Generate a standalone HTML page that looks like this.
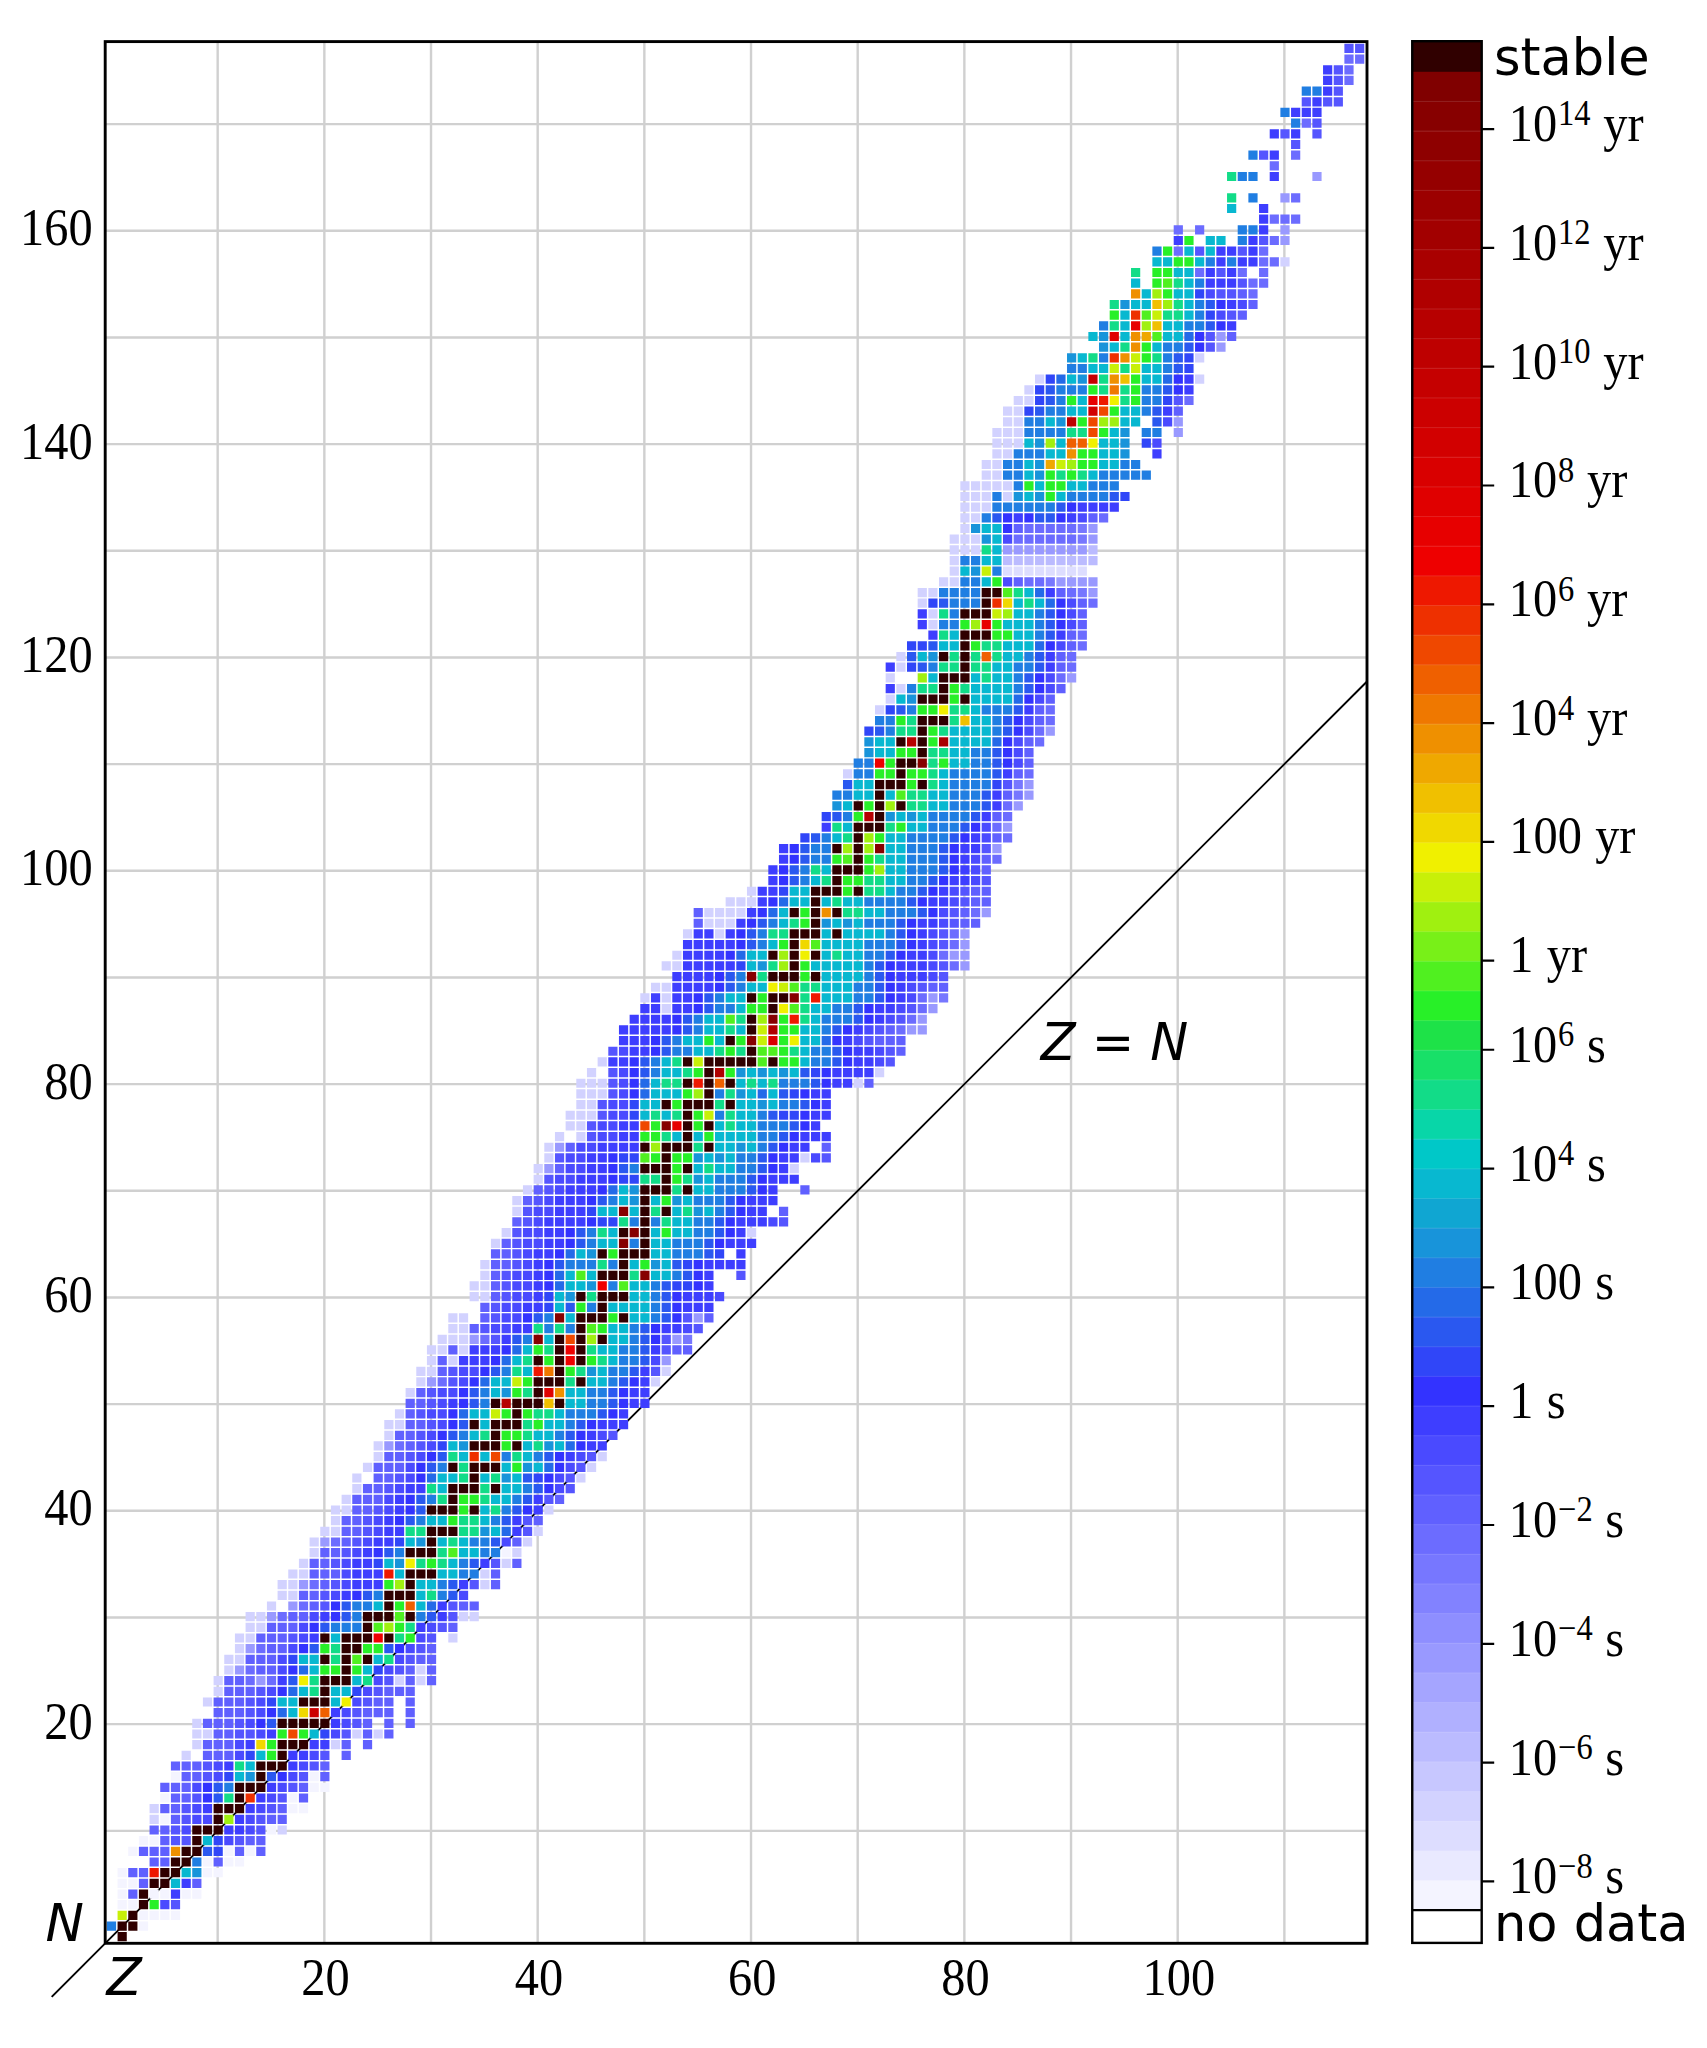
<!DOCTYPE html><html><head><meta charset="utf-8"><title>Isotopes and half-life</title>
<style>html,body{margin:0;padding:0;background:#fff}svg{display:block}.s{font-family:"Liberation Serif",serif;font-size:50px;fill:#000}.d{font-family:"DejaVu Sans",sans-serif;font-size:50px;fill:#000}.i{font-family:"DejaVu Sans",sans-serif;font-style:oblique;font-size:50px;fill:#000}</style></head><body>
<svg width="1707" height="2048" viewBox="0 0 1707 2048">
<rect width="1707" height="2048" fill="#fff"/>
<path d="M217.67 41.6V1943.3M324.34 41.6V1943.3M431.01 41.6V1943.3M537.68 41.6V1943.3M644.35 41.6V1943.3M751.02 41.6V1943.3M857.69 41.6V1943.3M964.36 41.6V1943.3M1071.03 41.6V1943.3M1177.7 41.6V1943.3M1284.37 41.6V1943.3M105.2 1830.83H1367M105.2 1724.16H1367M105.2 1617.49H1367M105.2 1510.82H1367M105.2 1404.15H1367M105.2 1297.48H1367M105.2 1190.81H1367M105.2 1084.14H1367M105.2 977.47H1367M105.2 870.8H1367M105.2 764.13H1367M105.2 657.46H1367M105.2 550.79H1367M105.2 444.12H1367M105.2 337.45H1367M105.2 230.78H1367M105.2 124.11H1367" stroke="#d0d0d0" stroke-width="2.4" fill="none"/>
<path d="M51.7 1996.8L1367 681.5" stroke="#000" stroke-width="1.9" fill="none"/>
<path fill="#300000" d="M117.57 1932.1h9.2v9.2h-9.2zM117.57 1921.43h9.2v9.2h-9.2zM128.24 1921.43h9.2v9.2h-9.2zM128.24 1910.76h9.2v9.2h-9.2zM138.9 1900.1h9.2v9.2h-9.2zM138.9 1889.43h9.2v9.2h-9.2zM149.57 1878.76h9.2v9.2h-9.2zM160.24 1878.76h9.2v9.2h-9.2zM160.24 1868.09h9.2v9.2h-9.2zM170.91 1868.09h9.2v9.2h-9.2zM170.91 1857.42h9.2v9.2h-9.2zM181.58 1857.42h9.2v9.2h-9.2zM181.58 1846.76h9.2v9.2h-9.2zM192.24 1846.76h9.2v9.2h-9.2zM192.24 1836.09h9.2v9.2h-9.2zM192.24 1825.42h9.2v9.2h-9.2zM202.91 1825.42h9.2v9.2h-9.2zM213.58 1825.42h9.2v9.2h-9.2zM213.58 1814.75h9.2v9.2h-9.2zM213.58 1804.08h9.2v9.2h-9.2zM224.25 1804.08h9.2v9.2h-9.2zM234.92 1804.08h9.2v9.2h-9.2zM234.92 1793.42h9.2v9.2h-9.2zM234.92 1782.75h9.2v9.2h-9.2zM245.58 1782.75h9.2v9.2h-9.2zM256.25 1782.75h9.2v9.2h-9.2zM256.25 1772.08h9.2v9.2h-9.2zM256.25 1761.41h9.2v9.2h-9.2zM266.92 1761.41h9.2v9.2h-9.2zM277.59 1761.41h9.2v9.2h-9.2zM277.59 1750.74h9.2v9.2h-9.2zM277.59 1740.08h9.2v9.2h-9.2zM288.26 1740.08h9.2v9.2h-9.2zM298.92 1740.08h9.2v9.2h-9.2zM277.59 1718.74h9.2v9.2h-9.2zM288.26 1718.74h9.2v9.2h-9.2zM298.92 1718.74h9.2v9.2h-9.2zM309.59 1718.74h9.2v9.2h-9.2zM320.26 1718.74h9.2v9.2h-9.2zM298.92 1697.4h9.2v9.2h-9.2zM309.59 1697.4h9.2v9.2h-9.2zM320.26 1697.4h9.2v9.2h-9.2zM320.26 1686.74h9.2v9.2h-9.2zM320.26 1676.07h9.2v9.2h-9.2zM330.93 1676.07h9.2v9.2h-9.2zM341.6 1676.07h9.2v9.2h-9.2zM341.6 1665.4h9.2v9.2h-9.2zM320.26 1654.73h9.2v9.2h-9.2zM341.6 1654.73h9.2v9.2h-9.2zM362.93 1654.73h9.2v9.2h-9.2zM341.6 1644.06h9.2v9.2h-9.2zM352.26 1644.06h9.2v9.2h-9.2zM320.26 1633.4h9.2v9.2h-9.2zM341.6 1633.4h9.2v9.2h-9.2zM352.26 1633.4h9.2v9.2h-9.2zM362.93 1633.4h9.2v9.2h-9.2zM384.27 1633.4h9.2v9.2h-9.2zM362.93 1622.73h9.2v9.2h-9.2zM362.93 1612.06h9.2v9.2h-9.2zM373.6 1612.06h9.2v9.2h-9.2zM384.27 1612.06h9.2v9.2h-9.2zM405.6 1612.06h9.2v9.2h-9.2zM384.27 1601.39h9.2v9.2h-9.2zM384.27 1590.72h9.2v9.2h-9.2zM394.94 1590.72h9.2v9.2h-9.2zM405.6 1590.72h9.2v9.2h-9.2zM405.6 1580.06h9.2v9.2h-9.2zM405.6 1569.39h9.2v9.2h-9.2zM416.27 1569.39h9.2v9.2h-9.2zM426.94 1569.39h9.2v9.2h-9.2zM405.6 1548.05h9.2v9.2h-9.2zM416.27 1548.05h9.2v9.2h-9.2zM426.94 1548.05h9.2v9.2h-9.2zM426.94 1537.38h9.2v9.2h-9.2zM426.94 1526.72h9.2v9.2h-9.2zM437.61 1526.72h9.2v9.2h-9.2zM448.28 1526.72h9.2v9.2h-9.2zM426.94 1505.38h9.2v9.2h-9.2zM437.61 1505.38h9.2v9.2h-9.2zM448.28 1505.38h9.2v9.2h-9.2zM469.61 1505.38h9.2v9.2h-9.2zM448.28 1494.71h9.2v9.2h-9.2zM448.28 1484.04h9.2v9.2h-9.2zM458.94 1484.04h9.2v9.2h-9.2zM469.61 1484.04h9.2v9.2h-9.2zM490.95 1484.04h9.2v9.2h-9.2zM469.61 1473.38h9.2v9.2h-9.2zM448.28 1462.71h9.2v9.2h-9.2zM469.61 1462.71h9.2v9.2h-9.2zM480.28 1462.71h9.2v9.2h-9.2zM490.95 1462.71h9.2v9.2h-9.2zM469.61 1441.37h9.2v9.2h-9.2zM480.28 1441.37h9.2v9.2h-9.2zM490.95 1441.37h9.2v9.2h-9.2zM512.28 1441.37h9.2v9.2h-9.2zM490.95 1430.7h9.2v9.2h-9.2zM469.61 1420.04h9.2v9.2h-9.2zM490.95 1420.04h9.2v9.2h-9.2zM501.62 1420.04h9.2v9.2h-9.2zM512.28 1420.04h9.2v9.2h-9.2zM512.28 1409.37h9.2v9.2h-9.2zM490.95 1398.7h9.2v9.2h-9.2zM512.28 1398.7h9.2v9.2h-9.2zM522.95 1398.7h9.2v9.2h-9.2zM533.62 1398.7h9.2v9.2h-9.2zM554.96 1398.7h9.2v9.2h-9.2zM533.62 1388.03h9.2v9.2h-9.2zM533.62 1377.36h9.2v9.2h-9.2zM544.29 1377.36h9.2v9.2h-9.2zM554.96 1377.36h9.2v9.2h-9.2zM576.29 1377.36h9.2v9.2h-9.2zM554.96 1366.7h9.2v9.2h-9.2zM533.62 1356.03h9.2v9.2h-9.2zM554.96 1356.03h9.2v9.2h-9.2zM576.29 1356.03h9.2v9.2h-9.2zM554.96 1345.36h9.2v9.2h-9.2zM576.29 1345.36h9.2v9.2h-9.2zM554.96 1334.69h9.2v9.2h-9.2zM576.29 1334.69h9.2v9.2h-9.2zM597.63 1334.69h9.2v9.2h-9.2zM576.29 1324.02h9.2v9.2h-9.2zM576.29 1313.36h9.2v9.2h-9.2zM586.96 1313.36h9.2v9.2h-9.2zM597.63 1313.36h9.2v9.2h-9.2zM618.96 1313.36h9.2v9.2h-9.2zM597.63 1302.69h9.2v9.2h-9.2zM576.29 1292.02h9.2v9.2h-9.2zM597.63 1292.02h9.2v9.2h-9.2zM608.3 1292.02h9.2v9.2h-9.2zM618.96 1292.02h9.2v9.2h-9.2zM597.63 1270.68h9.2v9.2h-9.2zM608.3 1270.68h9.2v9.2h-9.2zM618.96 1270.68h9.2v9.2h-9.2zM618.96 1260.02h9.2v9.2h-9.2zM597.63 1249.35h9.2v9.2h-9.2zM618.96 1249.35h9.2v9.2h-9.2zM629.63 1249.35h9.2v9.2h-9.2zM640.3 1249.35h9.2v9.2h-9.2zM640.3 1238.68h9.2v9.2h-9.2zM618.96 1228.01h9.2v9.2h-9.2zM640.3 1228.01h9.2v9.2h-9.2zM640.3 1217.34h9.2v9.2h-9.2zM640.3 1206.68h9.2v9.2h-9.2zM661.64 1206.68h9.2v9.2h-9.2zM640.3 1196.01h9.2v9.2h-9.2zM640.3 1185.34h9.2v9.2h-9.2zM650.97 1185.34h9.2v9.2h-9.2zM661.64 1185.34h9.2v9.2h-9.2zM682.97 1185.34h9.2v9.2h-9.2zM661.64 1174.67h9.2v9.2h-9.2zM640.3 1164h9.2v9.2h-9.2zM650.97 1164h9.2v9.2h-9.2zM661.64 1164h9.2v9.2h-9.2zM682.97 1164h9.2v9.2h-9.2zM661.64 1153.34h9.2v9.2h-9.2zM640.3 1142.67h9.2v9.2h-9.2zM661.64 1142.67h9.2v9.2h-9.2zM672.3 1142.67h9.2v9.2h-9.2zM682.97 1142.67h9.2v9.2h-9.2zM704.31 1142.67h9.2v9.2h-9.2zM682.97 1132h9.2v9.2h-9.2zM682.97 1121.33h9.2v9.2h-9.2zM704.31 1121.33h9.2v9.2h-9.2zM682.97 1110.66h9.2v9.2h-9.2zM661.64 1100h9.2v9.2h-9.2zM682.97 1100h9.2v9.2h-9.2zM693.64 1100h9.2v9.2h-9.2zM704.31 1100h9.2v9.2h-9.2zM725.64 1100h9.2v9.2h-9.2zM704.31 1089.33h9.2v9.2h-9.2zM682.97 1078.66h9.2v9.2h-9.2zM704.31 1078.66h9.2v9.2h-9.2zM725.64 1078.66h9.2v9.2h-9.2zM704.31 1067.99h9.2v9.2h-9.2zM682.97 1057.32h9.2v9.2h-9.2zM704.31 1057.32h9.2v9.2h-9.2zM714.98 1057.32h9.2v9.2h-9.2zM725.64 1057.32h9.2v9.2h-9.2zM736.31 1057.32h9.2v9.2h-9.2zM746.98 1057.32h9.2v9.2h-9.2zM768.32 1057.32h9.2v9.2h-9.2zM746.98 1046.66h9.2v9.2h-9.2zM725.64 1035.99h9.2v9.2h-9.2zM746.98 1025.32h9.2v9.2h-9.2zM746.98 1014.65h9.2v9.2h-9.2zM768.32 1003.98h9.2v9.2h-9.2zM746.98 993.32h9.2v9.2h-9.2zM768.32 993.32h9.2v9.2h-9.2zM778.98 993.32h9.2v9.2h-9.2zM768.32 971.98h9.2v9.2h-9.2zM778.98 971.98h9.2v9.2h-9.2zM789.65 971.98h9.2v9.2h-9.2zM810.99 971.98h9.2v9.2h-9.2zM789.65 961.31h9.2v9.2h-9.2zM768.32 950.64h9.2v9.2h-9.2zM789.65 950.64h9.2v9.2h-9.2zM810.99 950.64h9.2v9.2h-9.2zM789.65 939.98h9.2v9.2h-9.2zM789.65 929.31h9.2v9.2h-9.2zM800.32 929.31h9.2v9.2h-9.2zM810.99 929.31h9.2v9.2h-9.2zM832.32 929.31h9.2v9.2h-9.2zM810.99 918.64h9.2v9.2h-9.2zM789.65 907.97h9.2v9.2h-9.2zM810.99 907.97h9.2v9.2h-9.2zM832.32 907.97h9.2v9.2h-9.2zM810.99 897.3h9.2v9.2h-9.2zM810.99 886.64h9.2v9.2h-9.2zM821.66 886.64h9.2v9.2h-9.2zM832.32 886.64h9.2v9.2h-9.2zM853.66 886.64h9.2v9.2h-9.2zM832.32 875.97h9.2v9.2h-9.2zM832.32 865.3h9.2v9.2h-9.2zM842.99 865.3h9.2v9.2h-9.2zM853.66 865.3h9.2v9.2h-9.2zM853.66 854.63h9.2v9.2h-9.2zM832.32 843.96h9.2v9.2h-9.2zM853.66 843.96h9.2v9.2h-9.2zM853.66 833.3h9.2v9.2h-9.2zM853.66 822.63h9.2v9.2h-9.2zM864.33 822.63h9.2v9.2h-9.2zM875 822.63h9.2v9.2h-9.2zM875 811.96h9.2v9.2h-9.2zM853.66 801.29h9.2v9.2h-9.2zM875 801.29h9.2v9.2h-9.2zM896.33 801.29h9.2v9.2h-9.2zM875 790.62h9.2v9.2h-9.2zM875 779.96h9.2v9.2h-9.2zM885.66 779.96h9.2v9.2h-9.2zM896.33 779.96h9.2v9.2h-9.2zM917.67 779.96h9.2v9.2h-9.2zM896.33 769.29h9.2v9.2h-9.2zM896.33 758.62h9.2v9.2h-9.2zM907 758.62h9.2v9.2h-9.2zM917.67 747.95h9.2v9.2h-9.2zM896.33 737.28h9.2v9.2h-9.2zM917.67 737.28h9.2v9.2h-9.2zM917.67 726.62h9.2v9.2h-9.2zM917.67 715.95h9.2v9.2h-9.2zM928.34 715.95h9.2v9.2h-9.2zM939 715.95h9.2v9.2h-9.2zM917.67 694.61h9.2v9.2h-9.2zM928.34 694.61h9.2v9.2h-9.2zM939 694.61h9.2v9.2h-9.2zM960.34 694.61h9.2v9.2h-9.2zM939 683.94h9.2v9.2h-9.2zM939 673.28h9.2v9.2h-9.2zM949.67 673.28h9.2v9.2h-9.2zM960.34 673.28h9.2v9.2h-9.2zM960.34 662.61h9.2v9.2h-9.2zM939 651.94h9.2v9.2h-9.2zM960.34 651.94h9.2v9.2h-9.2zM960.34 641.27h9.2v9.2h-9.2zM960.34 630.6h9.2v9.2h-9.2zM971.01 630.6h9.2v9.2h-9.2zM981.68 630.6h9.2v9.2h-9.2zM960.34 609.27h9.2v9.2h-9.2zM971.01 609.27h9.2v9.2h-9.2zM981.68 609.27h9.2v9.2h-9.2zM981.68 598.6h9.2v9.2h-9.2zM981.68 587.93h9.2v9.2h-9.2zM992.34 587.93h9.2v9.2h-9.2z"/>
<path fill="#207ee2" d="M106.9 1921.43h9.2v9.2h-9.2zM192.24 1857.42h9.2v9.2h-9.2zM224.25 1782.75h9.2v9.2h-9.2zM330.93 1622.73h9.2v9.2h-9.2zM341.6 1622.73h9.2v9.2h-9.2zM352.26 1622.73h9.2v9.2h-9.2zM352.26 1612.06h9.2v9.2h-9.2zM416.27 1612.06h9.2v9.2h-9.2zM352.26 1601.39h9.2v9.2h-9.2zM362.93 1601.39h9.2v9.2h-9.2zM373.6 1590.72h9.2v9.2h-9.2zM437.61 1590.72h9.2v9.2h-9.2zM437.61 1580.06h9.2v9.2h-9.2zM458.94 1569.39h9.2v9.2h-9.2zM469.61 1569.39h9.2v9.2h-9.2zM458.94 1558.72h9.2v9.2h-9.2zM394.94 1548.05h9.2v9.2h-9.2zM480.28 1548.05h9.2v9.2h-9.2zM490.95 1548.05h9.2v9.2h-9.2zM469.61 1537.38h9.2v9.2h-9.2zM480.28 1537.38h9.2v9.2h-9.2zM416.27 1516.05h9.2v9.2h-9.2zM490.95 1516.05h9.2v9.2h-9.2zM501.62 1505.38h9.2v9.2h-9.2zM426.94 1494.71h9.2v9.2h-9.2zM512.28 1494.71h9.2v9.2h-9.2zM522.95 1484.04h9.2v9.2h-9.2zM437.61 1462.71h9.2v9.2h-9.2zM501.62 1452.04h9.2v9.2h-9.2zM533.62 1452.04h9.2v9.2h-9.2zM458.94 1430.7h9.2v9.2h-9.2zM554.96 1430.7h9.2v9.2h-9.2zM565.62 1420.04h9.2v9.2h-9.2zM565.62 1409.37h9.2v9.2h-9.2zM576.29 1409.37h9.2v9.2h-9.2zM586.96 1409.37h9.2v9.2h-9.2zM480.28 1398.7h9.2v9.2h-9.2zM586.96 1398.7h9.2v9.2h-9.2zM597.63 1398.7h9.2v9.2h-9.2zM480.28 1388.03h9.2v9.2h-9.2zM586.96 1388.03h9.2v9.2h-9.2zM597.63 1388.03h9.2v9.2h-9.2zM608.3 1377.36h9.2v9.2h-9.2zM501.62 1366.7h9.2v9.2h-9.2zM608.3 1366.7h9.2v9.2h-9.2zM618.96 1366.7h9.2v9.2h-9.2zM618.96 1356.03h9.2v9.2h-9.2zM629.63 1356.03h9.2v9.2h-9.2zM618.96 1345.36h9.2v9.2h-9.2zM629.63 1345.36h9.2v9.2h-9.2zM522.95 1334.69h9.2v9.2h-9.2zM629.63 1334.69h9.2v9.2h-9.2zM544.29 1324.02h9.2v9.2h-9.2zM565.62 1324.02h9.2v9.2h-9.2zM629.63 1324.02h9.2v9.2h-9.2zM544.29 1313.36h9.2v9.2h-9.2zM650.97 1313.36h9.2v9.2h-9.2zM586.96 1302.69h9.2v9.2h-9.2zM650.97 1302.69h9.2v9.2h-9.2zM650.97 1292.02h9.2v9.2h-9.2zM608.3 1281.35h9.2v9.2h-9.2zM650.97 1281.35h9.2v9.2h-9.2zM672.3 1270.68h9.2v9.2h-9.2zM565.62 1260.02h9.2v9.2h-9.2zM576.29 1260.02h9.2v9.2h-9.2zM586.96 1260.02h9.2v9.2h-9.2zM608.3 1260.02h9.2v9.2h-9.2zM672.3 1249.35h9.2v9.2h-9.2zM682.97 1249.35h9.2v9.2h-9.2zM693.64 1249.35h9.2v9.2h-9.2zM586.96 1238.68h9.2v9.2h-9.2zM629.63 1238.68h9.2v9.2h-9.2zM672.3 1238.68h9.2v9.2h-9.2zM682.97 1238.68h9.2v9.2h-9.2zM693.64 1238.68h9.2v9.2h-9.2zM586.96 1228.01h9.2v9.2h-9.2zM693.64 1228.01h9.2v9.2h-9.2zM704.31 1228.01h9.2v9.2h-9.2zM629.63 1217.34h9.2v9.2h-9.2zM650.97 1217.34h9.2v9.2h-9.2zM693.64 1217.34h9.2v9.2h-9.2zM704.31 1217.34h9.2v9.2h-9.2zM714.98 1206.68h9.2v9.2h-9.2zM608.3 1196.01h9.2v9.2h-9.2zM693.64 1196.01h9.2v9.2h-9.2zM704.31 1196.01h9.2v9.2h-9.2zM714.98 1196.01h9.2v9.2h-9.2zM714.98 1185.34h9.2v9.2h-9.2zM725.64 1185.34h9.2v9.2h-9.2zM736.31 1185.34h9.2v9.2h-9.2zM714.98 1174.67h9.2v9.2h-9.2zM725.64 1174.67h9.2v9.2h-9.2zM736.31 1174.67h9.2v9.2h-9.2zM629.63 1164h9.2v9.2h-9.2zM736.31 1164h9.2v9.2h-9.2zM746.98 1164h9.2v9.2h-9.2zM736.31 1153.34h9.2v9.2h-9.2zM746.98 1153.34h9.2v9.2h-9.2zM757.65 1142.67h9.2v9.2h-9.2zM757.65 1132h9.2v9.2h-9.2zM768.32 1132h9.2v9.2h-9.2zM757.65 1121.33h9.2v9.2h-9.2zM768.32 1121.33h9.2v9.2h-9.2zM778.98 1121.33h9.2v9.2h-9.2zM714.98 1110.66h9.2v9.2h-9.2zM757.65 1110.66h9.2v9.2h-9.2zM778.98 1100h9.2v9.2h-9.2zM789.65 1100h9.2v9.2h-9.2zM714.98 1089.33h9.2v9.2h-9.2zM778.98 1078.66h9.2v9.2h-9.2zM789.65 1078.66h9.2v9.2h-9.2zM800.32 1078.66h9.2v9.2h-9.2zM650.97 1067.99h9.2v9.2h-9.2zM650.97 1057.32h9.2v9.2h-9.2zM810.99 1057.32h9.2v9.2h-9.2zM821.66 1057.32h9.2v9.2h-9.2zM672.3 1046.66h9.2v9.2h-9.2zM682.97 1046.66h9.2v9.2h-9.2zM810.99 1046.66h9.2v9.2h-9.2zM821.66 1046.66h9.2v9.2h-9.2zM672.3 1035.99h9.2v9.2h-9.2zM693.64 1025.32h9.2v9.2h-9.2zM821.66 1025.32h9.2v9.2h-9.2zM693.64 1014.65h9.2v9.2h-9.2zM821.66 1014.65h9.2v9.2h-9.2zM832.32 1014.65h9.2v9.2h-9.2zM842.99 1014.65h9.2v9.2h-9.2zM714.98 1003.98h9.2v9.2h-9.2zM725.64 1003.98h9.2v9.2h-9.2zM832.32 1003.98h9.2v9.2h-9.2zM842.99 1003.98h9.2v9.2h-9.2zM714.98 993.32h9.2v9.2h-9.2zM853.66 993.32h9.2v9.2h-9.2zM864.33 993.32h9.2v9.2h-9.2zM736.31 982.65h9.2v9.2h-9.2zM853.66 982.65h9.2v9.2h-9.2zM864.33 982.65h9.2v9.2h-9.2zM736.31 971.98h9.2v9.2h-9.2zM864.33 971.98h9.2v9.2h-9.2zM864.33 961.31h9.2v9.2h-9.2zM864.33 950.64h9.2v9.2h-9.2zM875 950.64h9.2v9.2h-9.2zM757.65 939.98h9.2v9.2h-9.2zM864.33 939.98h9.2v9.2h-9.2zM875 939.98h9.2v9.2h-9.2zM885.66 939.98h9.2v9.2h-9.2zM757.65 929.31h9.2v9.2h-9.2zM885.66 929.31h9.2v9.2h-9.2zM768.32 918.64h9.2v9.2h-9.2zM864.33 918.64h9.2v9.2h-9.2zM875 918.64h9.2v9.2h-9.2zM885.66 918.64h9.2v9.2h-9.2zM885.66 907.97h9.2v9.2h-9.2zM896.33 907.97h9.2v9.2h-9.2zM907 907.97h9.2v9.2h-9.2zM864.33 897.3h9.2v9.2h-9.2zM875 897.3h9.2v9.2h-9.2zM885.66 897.3h9.2v9.2h-9.2zM896.33 897.3h9.2v9.2h-9.2zM896.33 886.64h9.2v9.2h-9.2zM907 886.64h9.2v9.2h-9.2zM800.32 875.97h9.2v9.2h-9.2zM907 875.97h9.2v9.2h-9.2zM917.67 875.97h9.2v9.2h-9.2zM800.32 865.3h9.2v9.2h-9.2zM907 865.3h9.2v9.2h-9.2zM917.67 865.3h9.2v9.2h-9.2zM928.34 865.3h9.2v9.2h-9.2zM810.99 854.63h9.2v9.2h-9.2zM821.66 854.63h9.2v9.2h-9.2zM907 854.63h9.2v9.2h-9.2zM917.67 854.63h9.2v9.2h-9.2zM928.34 854.63h9.2v9.2h-9.2zM810.99 843.96h9.2v9.2h-9.2zM821.66 843.96h9.2v9.2h-9.2zM907 843.96h9.2v9.2h-9.2zM917.67 843.96h9.2v9.2h-9.2zM928.34 843.96h9.2v9.2h-9.2zM821.66 833.3h9.2v9.2h-9.2zM907 833.3h9.2v9.2h-9.2zM917.67 833.3h9.2v9.2h-9.2zM928.34 833.3h9.2v9.2h-9.2zM939 833.3h9.2v9.2h-9.2zM928.34 822.63h9.2v9.2h-9.2zM939 822.63h9.2v9.2h-9.2zM949.67 822.63h9.2v9.2h-9.2zM842.99 811.96h9.2v9.2h-9.2zM928.34 811.96h9.2v9.2h-9.2zM939 811.96h9.2v9.2h-9.2zM949.67 811.96h9.2v9.2h-9.2zM960.34 811.96h9.2v9.2h-9.2zM949.67 801.29h9.2v9.2h-9.2zM960.34 801.29h9.2v9.2h-9.2zM971.01 801.29h9.2v9.2h-9.2zM832.32 790.62h9.2v9.2h-9.2zM842.99 790.62h9.2v9.2h-9.2zM949.67 790.62h9.2v9.2h-9.2zM960.34 790.62h9.2v9.2h-9.2zM971.01 790.62h9.2v9.2h-9.2zM949.67 779.96h9.2v9.2h-9.2zM960.34 779.96h9.2v9.2h-9.2zM971.01 779.96h9.2v9.2h-9.2zM981.68 779.96h9.2v9.2h-9.2zM853.66 769.29h9.2v9.2h-9.2zM864.33 769.29h9.2v9.2h-9.2zM949.67 769.29h9.2v9.2h-9.2zM960.34 769.29h9.2v9.2h-9.2zM971.01 769.29h9.2v9.2h-9.2zM981.68 769.29h9.2v9.2h-9.2zM853.66 758.62h9.2v9.2h-9.2zM864.33 758.62h9.2v9.2h-9.2zM971.01 758.62h9.2v9.2h-9.2zM981.68 758.62h9.2v9.2h-9.2zM971.01 747.95h9.2v9.2h-9.2zM981.68 747.95h9.2v9.2h-9.2zM885.66 726.62h9.2v9.2h-9.2zM992.34 726.62h9.2v9.2h-9.2zM875 715.95h9.2v9.2h-9.2zM885.66 715.95h9.2v9.2h-9.2zM992.34 715.95h9.2v9.2h-9.2zM907 705.28h9.2v9.2h-9.2zM981.68 705.28h9.2v9.2h-9.2zM992.34 705.28h9.2v9.2h-9.2zM1003.01 705.28h9.2v9.2h-9.2zM907 683.94h9.2v9.2h-9.2zM1013.68 683.94h9.2v9.2h-9.2zM1013.68 673.28h9.2v9.2h-9.2zM928.34 662.61h9.2v9.2h-9.2zM1013.68 662.61h9.2v9.2h-9.2zM1024.35 662.61h9.2v9.2h-9.2zM1024.35 651.94h9.2v9.2h-9.2zM1035.02 630.6h9.2v9.2h-9.2zM939 619.94h9.2v9.2h-9.2zM949.67 619.94h9.2v9.2h-9.2zM1035.02 619.94h9.2v9.2h-9.2zM949.67 609.27h9.2v9.2h-9.2zM1035.02 609.27h9.2v9.2h-9.2zM949.67 598.6h9.2v9.2h-9.2zM960.34 598.6h9.2v9.2h-9.2zM971.01 598.6h9.2v9.2h-9.2zM939 587.93h9.2v9.2h-9.2zM949.67 587.93h9.2v9.2h-9.2zM960.34 587.93h9.2v9.2h-9.2zM971.01 587.93h9.2v9.2h-9.2zM960.34 577.26h9.2v9.2h-9.2zM971.01 577.26h9.2v9.2h-9.2zM992.34 566.6h9.2v9.2h-9.2zM960.34 555.93h9.2v9.2h-9.2zM971.01 555.93h9.2v9.2h-9.2zM981.68 513.26h9.2v9.2h-9.2zM992.34 502.59h9.2v9.2h-9.2zM1003.01 502.59h9.2v9.2h-9.2zM1013.68 502.59h9.2v9.2h-9.2zM1024.35 502.59h9.2v9.2h-9.2zM1035.02 502.59h9.2v9.2h-9.2zM1045.68 502.59h9.2v9.2h-9.2zM992.34 491.92h9.2v9.2h-9.2zM1067.02 491.92h9.2v9.2h-9.2zM1077.69 491.92h9.2v9.2h-9.2zM1088.36 491.92h9.2v9.2h-9.2zM1099.02 491.92h9.2v9.2h-9.2zM1013.68 481.25h9.2v9.2h-9.2zM1088.36 481.25h9.2v9.2h-9.2zM1099.02 481.25h9.2v9.2h-9.2zM1109.69 481.25h9.2v9.2h-9.2zM1003.01 470.58h9.2v9.2h-9.2zM1013.68 470.58h9.2v9.2h-9.2zM1099.02 470.58h9.2v9.2h-9.2zM1109.69 470.58h9.2v9.2h-9.2zM1120.36 470.58h9.2v9.2h-9.2zM1131.03 470.58h9.2v9.2h-9.2zM1141.7 470.58h9.2v9.2h-9.2zM1003.01 459.92h9.2v9.2h-9.2zM1013.68 459.92h9.2v9.2h-9.2zM1120.36 459.92h9.2v9.2h-9.2zM1131.03 459.92h9.2v9.2h-9.2zM1013.68 449.25h9.2v9.2h-9.2zM1024.35 449.25h9.2v9.2h-9.2zM1035.02 449.25h9.2v9.2h-9.2zM1024.35 427.91h9.2v9.2h-9.2zM1035.02 427.91h9.2v9.2h-9.2zM1045.68 427.91h9.2v9.2h-9.2zM1056.35 427.91h9.2v9.2h-9.2zM1141.7 427.91h9.2v9.2h-9.2zM1152.36 427.91h9.2v9.2h-9.2zM1024.35 417.24h9.2v9.2h-9.2zM1035.02 417.24h9.2v9.2h-9.2zM1045.68 406.58h9.2v9.2h-9.2zM1056.35 406.58h9.2v9.2h-9.2zM1141.7 406.58h9.2v9.2h-9.2zM1056.35 395.91h9.2v9.2h-9.2zM1141.7 395.91h9.2v9.2h-9.2zM1152.36 395.91h9.2v9.2h-9.2zM1056.35 385.24h9.2v9.2h-9.2zM1067.02 385.24h9.2v9.2h-9.2zM1077.69 385.24h9.2v9.2h-9.2zM1141.7 385.24h9.2v9.2h-9.2zM1152.36 385.24h9.2v9.2h-9.2zM1067.02 363.9h9.2v9.2h-9.2zM1077.69 363.9h9.2v9.2h-9.2zM1163.03 363.9h9.2v9.2h-9.2zM1099.02 353.24h9.2v9.2h-9.2zM1163.03 353.24h9.2v9.2h-9.2zM1163.03 342.57h9.2v9.2h-9.2zM1173.7 342.57h9.2v9.2h-9.2zM1099.02 321.23h9.2v9.2h-9.2zM1184.37 321.23h9.2v9.2h-9.2zM1195.04 321.23h9.2v9.2h-9.2zM1195.04 310.56h9.2v9.2h-9.2zM1195.04 299.9h9.2v9.2h-9.2zM1195.04 278.56h9.2v9.2h-9.2zM1205.7 257.22h9.2v9.2h-9.2zM1227.04 257.22h9.2v9.2h-9.2zM1152.36 246.56h9.2v9.2h-9.2zM1237.71 235.89h9.2v9.2h-9.2zM1237.71 225.22h9.2v9.2h-9.2zM1248.38 225.22h9.2v9.2h-9.2zM1248.38 193.22h9.2v9.2h-9.2zM1237.71 171.88h9.2v9.2h-9.2zM1248.38 171.88h9.2v9.2h-9.2zM1248.38 150.54h9.2v9.2h-9.2zM1291.05 118.54h9.2v9.2h-9.2zM1280.38 107.87h9.2v9.2h-9.2zM1301.72 86.54h9.2v9.2h-9.2zM1312.38 86.54h9.2v9.2h-9.2z"/>
<path fill="#f4f4ff" d="M138.9 1921.43h9.2v9.2h-9.2zM138.9 1910.76h9.2v9.2h-9.2zM149.57 1910.76h9.2v9.2h-9.2zM160.24 1910.76h9.2v9.2h-9.2zM170.91 1910.76h9.2v9.2h-9.2zM117.57 1900.1h9.2v9.2h-9.2zM128.24 1900.1h9.2v9.2h-9.2zM117.57 1889.43h9.2v9.2h-9.2zM149.57 1889.43h9.2v9.2h-9.2zM160.24 1889.43h9.2v9.2h-9.2zM181.58 1889.43h9.2v9.2h-9.2zM192.24 1889.43h9.2v9.2h-9.2zM117.57 1878.76h9.2v9.2h-9.2zM128.24 1878.76h9.2v9.2h-9.2zM117.57 1868.09h9.2v9.2h-9.2zM202.91 1868.09h9.2v9.2h-9.2zM213.58 1868.09h9.2v9.2h-9.2zM202.91 1857.42h9.2v9.2h-9.2zM224.25 1857.42h9.2v9.2h-9.2zM234.92 1857.42h9.2v9.2h-9.2zM128.24 1846.76h9.2v9.2h-9.2zM224.25 1846.76h9.2v9.2h-9.2zM245.58 1846.76h9.2v9.2h-9.2zM138.9 1836.09h9.2v9.2h-9.2zM149.57 1836.09h9.2v9.2h-9.2zM266.92 1825.42h9.2v9.2h-9.2zM160.24 1814.75h9.2v9.2h-9.2zM288.26 1804.08h9.2v9.2h-9.2zM298.92 1804.08h9.2v9.2h-9.2zM160.24 1793.42h9.2v9.2h-9.2zM288.26 1793.42h9.2v9.2h-9.2zM309.59 1782.75h9.2v9.2h-9.2zM320.26 1782.75h9.2v9.2h-9.2zM170.91 1772.08h9.2v9.2h-9.2zM309.59 1772.08h9.2v9.2h-9.2zM501.62 1548.05h9.2v9.2h-9.2z"/>
<path fill="#c8f008" d="M117.57 1910.76h9.2v9.2h-9.2zM490.95 1409.37h9.2v9.2h-9.2zM512.28 1377.36h9.2v9.2h-9.2zM704.31 1110.66h9.2v9.2h-9.2zM693.64 1057.32h9.2v9.2h-9.2zM757.65 1035.99h9.2v9.2h-9.2zM757.65 1025.32h9.2v9.2h-9.2zM778.98 982.65h9.2v9.2h-9.2zM992.34 609.27h9.2v9.2h-9.2zM981.68 566.6h9.2v9.2h-9.2zM1056.35 459.92h9.2v9.2h-9.2zM1109.69 363.9h9.2v9.2h-9.2zM1131.03 363.9h9.2v9.2h-9.2zM1131.03 353.24h9.2v9.2h-9.2zM1152.36 310.56h9.2v9.2h-9.2z"/>
<path fill="#28f028" d="M149.57 1900.1h9.2v9.2h-9.2zM266.92 1750.74h9.2v9.2h-9.2zM266.92 1740.08h9.2v9.2h-9.2zM277.59 1729.41h9.2v9.2h-9.2zM298.92 1729.41h9.2v9.2h-9.2zM320.26 1665.4h9.2v9.2h-9.2zM330.93 1665.4h9.2v9.2h-9.2zM352.26 1665.4h9.2v9.2h-9.2zM320.26 1644.06h9.2v9.2h-9.2zM362.93 1644.06h9.2v9.2h-9.2zM373.6 1644.06h9.2v9.2h-9.2zM405.6 1633.4h9.2v9.2h-9.2zM394.94 1622.73h9.2v9.2h-9.2zM394.94 1601.39h9.2v9.2h-9.2zM384.27 1580.06h9.2v9.2h-9.2zM426.94 1558.72h9.2v9.2h-9.2zM448.28 1516.05h9.2v9.2h-9.2zM458.94 1505.38h9.2v9.2h-9.2zM458.94 1494.71h9.2v9.2h-9.2zM469.61 1494.71h9.2v9.2h-9.2zM512.28 1462.71h9.2v9.2h-9.2zM501.62 1441.37h9.2v9.2h-9.2zM501.62 1430.7h9.2v9.2h-9.2zM512.28 1430.7h9.2v9.2h-9.2zM533.62 1420.04h9.2v9.2h-9.2zM501.62 1409.37h9.2v9.2h-9.2zM522.95 1409.37h9.2v9.2h-9.2zM512.28 1388.03h9.2v9.2h-9.2zM522.95 1377.36h9.2v9.2h-9.2zM565.62 1366.7h9.2v9.2h-9.2zM544.29 1356.03h9.2v9.2h-9.2zM586.96 1356.03h9.2v9.2h-9.2zM533.62 1345.36h9.2v9.2h-9.2zM597.63 1324.02h9.2v9.2h-9.2zM608.3 1313.36h9.2v9.2h-9.2zM576.29 1302.69h9.2v9.2h-9.2zM640.3 1260.02h9.2v9.2h-9.2zM608.3 1249.35h9.2v9.2h-9.2zM661.64 1228.01h9.2v9.2h-9.2zM661.64 1196.01h9.2v9.2h-9.2zM672.3 1174.67h9.2v9.2h-9.2zM672.3 1164h9.2v9.2h-9.2zM650.97 1153.34h9.2v9.2h-9.2zM672.3 1153.34h9.2v9.2h-9.2zM682.97 1153.34h9.2v9.2h-9.2zM640.3 1132h9.2v9.2h-9.2zM650.97 1132h9.2v9.2h-9.2zM704.31 1132h9.2v9.2h-9.2zM650.97 1121.33h9.2v9.2h-9.2zM693.64 1121.33h9.2v9.2h-9.2zM693.64 1110.66h9.2v9.2h-9.2zM672.3 1100h9.2v9.2h-9.2zM682.97 1089.33h9.2v9.2h-9.2zM693.64 1067.99h9.2v9.2h-9.2zM725.64 1067.99h9.2v9.2h-9.2zM778.98 1057.32h9.2v9.2h-9.2zM789.65 1057.32h9.2v9.2h-9.2zM725.64 1046.66h9.2v9.2h-9.2zM778.98 1046.66h9.2v9.2h-9.2zM704.31 1035.99h9.2v9.2h-9.2zM736.31 1035.99h9.2v9.2h-9.2zM778.98 1035.99h9.2v9.2h-9.2zM778.98 1025.32h9.2v9.2h-9.2zM789.65 1025.32h9.2v9.2h-9.2zM778.98 1014.65h9.2v9.2h-9.2zM746.98 1003.98h9.2v9.2h-9.2zM757.65 1003.98h9.2v9.2h-9.2zM757.65 993.32h9.2v9.2h-9.2zM800.32 971.98h9.2v9.2h-9.2zM800.32 961.31h9.2v9.2h-9.2zM778.98 939.98h9.2v9.2h-9.2zM800.32 918.64h9.2v9.2h-9.2zM800.32 907.97h9.2v9.2h-9.2zM842.99 886.64h9.2v9.2h-9.2zM842.99 875.97h9.2v9.2h-9.2zM853.66 875.97h9.2v9.2h-9.2zM864.33 865.3h9.2v9.2h-9.2zM832.32 854.63h9.2v9.2h-9.2zM864.33 854.63h9.2v9.2h-9.2zM875 833.3h9.2v9.2h-9.2zM896.33 822.63h9.2v9.2h-9.2zM853.66 811.96h9.2v9.2h-9.2zM864.33 801.29h9.2v9.2h-9.2zM907 779.96h9.2v9.2h-9.2zM875 769.29h9.2v9.2h-9.2zM885.66 769.29h9.2v9.2h-9.2zM907 769.29h9.2v9.2h-9.2zM917.67 769.29h9.2v9.2h-9.2zM885.66 758.62h9.2v9.2h-9.2zM939 758.62h9.2v9.2h-9.2zM896.33 747.95h9.2v9.2h-9.2zM907 747.95h9.2v9.2h-9.2zM928.34 737.28h9.2v9.2h-9.2zM928.34 726.62h9.2v9.2h-9.2zM896.33 715.95h9.2v9.2h-9.2zM917.67 705.28h9.2v9.2h-9.2zM928.34 705.28h9.2v9.2h-9.2zM949.67 694.61h9.2v9.2h-9.2zM949.67 683.94h9.2v9.2h-9.2zM971.01 641.27h9.2v9.2h-9.2zM992.34 630.6h9.2v9.2h-9.2zM1003.01 630.6h9.2v9.2h-9.2zM960.34 619.94h9.2v9.2h-9.2zM992.34 619.94h9.2v9.2h-9.2zM992.34 577.26h9.2v9.2h-9.2zM1045.68 491.92h9.2v9.2h-9.2zM1024.35 481.25h9.2v9.2h-9.2zM1045.68 481.25h9.2v9.2h-9.2zM1056.35 481.25h9.2v9.2h-9.2zM1045.68 470.58h9.2v9.2h-9.2zM1067.02 470.58h9.2v9.2h-9.2zM1077.69 459.92h9.2v9.2h-9.2zM1088.36 459.92h9.2v9.2h-9.2zM1077.69 449.25h9.2v9.2h-9.2zM1088.36 449.25h9.2v9.2h-9.2zM1099.02 427.91h9.2v9.2h-9.2zM1077.69 417.24h9.2v9.2h-9.2zM1109.69 406.58h9.2v9.2h-9.2zM1067.02 395.91h9.2v9.2h-9.2zM1131.03 395.91h9.2v9.2h-9.2zM1088.36 385.24h9.2v9.2h-9.2zM1131.03 385.24h9.2v9.2h-9.2zM1131.03 374.57h9.2v9.2h-9.2zM1141.7 353.24h9.2v9.2h-9.2zM1141.7 342.57h9.2v9.2h-9.2zM1109.69 310.56h9.2v9.2h-9.2zM1163.03 289.23h9.2v9.2h-9.2zM1152.36 278.56h9.2v9.2h-9.2zM1152.36 267.89h9.2v9.2h-9.2zM1163.03 267.89h9.2v9.2h-9.2zM1173.7 257.22h9.2v9.2h-9.2zM1184.37 257.22h9.2v9.2h-9.2zM1163.03 246.56h9.2v9.2h-9.2zM1184.37 235.89h9.2v9.2h-9.2z"/>
<path fill="#4a4aff" d="M160.24 1900.1h9.2v9.2h-9.2zM224.25 1836.09h9.2v9.2h-9.2zM181.58 1825.42h9.2v9.2h-9.2zM245.58 1825.42h9.2v9.2h-9.2zM192.24 1814.75h9.2v9.2h-9.2zM202.91 1814.75h9.2v9.2h-9.2zM245.58 1814.75h9.2v9.2h-9.2zM192.24 1804.08h9.2v9.2h-9.2zM256.25 1804.08h9.2v9.2h-9.2zM266.92 1793.42h9.2v9.2h-9.2zM192.24 1782.75h9.2v9.2h-9.2zM277.59 1782.75h9.2v9.2h-9.2zM213.58 1772.08h9.2v9.2h-9.2zM288.26 1772.08h9.2v9.2h-9.2zM213.58 1761.41h9.2v9.2h-9.2zM298.92 1761.41h9.2v9.2h-9.2zM234.92 1750.74h9.2v9.2h-9.2zM309.59 1750.74h9.2v9.2h-9.2zM234.92 1740.08h9.2v9.2h-9.2zM256.25 1729.41h9.2v9.2h-9.2zM330.93 1729.41h9.2v9.2h-9.2zM245.58 1718.74h9.2v9.2h-9.2zM341.6 1718.74h9.2v9.2h-9.2zM256.25 1708.07h9.2v9.2h-9.2zM341.6 1708.07h9.2v9.2h-9.2zM256.25 1697.4h9.2v9.2h-9.2zM352.26 1697.4h9.2v9.2h-9.2zM266.92 1686.74h9.2v9.2h-9.2zM362.93 1686.74h9.2v9.2h-9.2zM373.6 1676.07h9.2v9.2h-9.2zM277.59 1665.4h9.2v9.2h-9.2zM384.27 1665.4h9.2v9.2h-9.2zM277.59 1654.73h9.2v9.2h-9.2zM394.94 1654.73h9.2v9.2h-9.2zM288.26 1644.06h9.2v9.2h-9.2zM405.6 1644.06h9.2v9.2h-9.2zM298.92 1633.4h9.2v9.2h-9.2zM416.27 1633.4h9.2v9.2h-9.2zM298.92 1622.73h9.2v9.2h-9.2zM426.94 1622.73h9.2v9.2h-9.2zM309.59 1612.06h9.2v9.2h-9.2zM330.93 1590.72h9.2v9.2h-9.2zM458.94 1590.72h9.2v9.2h-9.2zM341.6 1580.06h9.2v9.2h-9.2zM341.6 1569.39h9.2v9.2h-9.2zM341.6 1558.72h9.2v9.2h-9.2zM352.26 1548.05h9.2v9.2h-9.2zM362.93 1537.38h9.2v9.2h-9.2zM501.62 1537.38h9.2v9.2h-9.2zM373.6 1526.72h9.2v9.2h-9.2zM373.6 1516.05h9.2v9.2h-9.2zM384.27 1505.38h9.2v9.2h-9.2zM384.27 1494.71h9.2v9.2h-9.2zM394.94 1484.04h9.2v9.2h-9.2zM554.96 1484.04h9.2v9.2h-9.2zM405.6 1473.38h9.2v9.2h-9.2zM554.96 1473.38h9.2v9.2h-9.2zM405.6 1462.71h9.2v9.2h-9.2zM565.62 1462.71h9.2v9.2h-9.2zM416.27 1452.04h9.2v9.2h-9.2zM576.29 1452.04h9.2v9.2h-9.2zM426.94 1441.37h9.2v9.2h-9.2zM426.94 1430.7h9.2v9.2h-9.2zM597.63 1430.7h9.2v9.2h-9.2zM437.61 1420.04h9.2v9.2h-9.2zM426.94 1409.37h9.2v9.2h-9.2zM437.61 1409.37h9.2v9.2h-9.2zM437.61 1398.7h9.2v9.2h-9.2zM437.61 1388.03h9.2v9.2h-9.2zM448.28 1388.03h9.2v9.2h-9.2zM458.94 1377.36h9.2v9.2h-9.2zM458.94 1366.7h9.2v9.2h-9.2zM469.61 1366.7h9.2v9.2h-9.2zM650.97 1356.03h9.2v9.2h-9.2zM490.95 1324.02h9.2v9.2h-9.2zM501.62 1324.02h9.2v9.2h-9.2zM682.97 1324.02h9.2v9.2h-9.2zM501.62 1313.36h9.2v9.2h-9.2zM512.28 1313.36h9.2v9.2h-9.2zM501.62 1302.69h9.2v9.2h-9.2zM512.28 1302.69h9.2v9.2h-9.2zM512.28 1292.02h9.2v9.2h-9.2zM522.95 1292.02h9.2v9.2h-9.2zM714.98 1292.02h9.2v9.2h-9.2zM512.28 1281.35h9.2v9.2h-9.2zM522.95 1281.35h9.2v9.2h-9.2zM512.28 1270.68h9.2v9.2h-9.2zM522.95 1270.68h9.2v9.2h-9.2zM522.95 1260.02h9.2v9.2h-9.2zM522.95 1249.35h9.2v9.2h-9.2zM522.95 1238.68h9.2v9.2h-9.2zM533.62 1238.68h9.2v9.2h-9.2zM522.95 1228.01h9.2v9.2h-9.2zM533.62 1228.01h9.2v9.2h-9.2zM533.62 1217.34h9.2v9.2h-9.2zM768.32 1217.34h9.2v9.2h-9.2zM533.62 1206.68h9.2v9.2h-9.2zM544.29 1206.68h9.2v9.2h-9.2zM544.29 1196.01h9.2v9.2h-9.2zM554.96 1185.34h9.2v9.2h-9.2zM554.96 1174.67h9.2v9.2h-9.2zM565.62 1174.67h9.2v9.2h-9.2zM565.62 1164h9.2v9.2h-9.2zM576.29 1164h9.2v9.2h-9.2zM565.62 1153.34h9.2v9.2h-9.2zM576.29 1153.34h9.2v9.2h-9.2zM810.99 1153.34h9.2v9.2h-9.2zM576.29 1142.67h9.2v9.2h-9.2zM586.96 1142.67h9.2v9.2h-9.2zM597.63 1132h9.2v9.2h-9.2zM608.3 1132h9.2v9.2h-9.2zM597.63 1121.33h9.2v9.2h-9.2zM608.3 1121.33h9.2v9.2h-9.2zM608.3 1110.66h9.2v9.2h-9.2zM618.96 1110.66h9.2v9.2h-9.2zM608.3 1100h9.2v9.2h-9.2zM618.96 1100h9.2v9.2h-9.2zM618.96 1089.33h9.2v9.2h-9.2zM618.96 1078.66h9.2v9.2h-9.2zM618.96 1067.99h9.2v9.2h-9.2zM875 1057.32h9.2v9.2h-9.2zM618.96 1046.66h9.2v9.2h-9.2zM875 1046.66h9.2v9.2h-9.2zM853.66 1035.99h9.2v9.2h-9.2zM864.33 1025.32h9.2v9.2h-9.2zM885.66 1014.65h9.2v9.2h-9.2zM896.33 1003.98h9.2v9.2h-9.2zM907 993.32h9.2v9.2h-9.2zM907 982.65h9.2v9.2h-9.2zM928.34 971.98h9.2v9.2h-9.2zM928.34 961.31h9.2v9.2h-9.2zM928.34 950.64h9.2v9.2h-9.2zM928.34 939.98h9.2v9.2h-9.2zM928.34 929.31h9.2v9.2h-9.2zM939 918.64h9.2v9.2h-9.2zM939 907.97h9.2v9.2h-9.2zM949.67 897.3h9.2v9.2h-9.2zM949.67 886.64h9.2v9.2h-9.2zM971.01 875.97h9.2v9.2h-9.2zM971.01 865.3h9.2v9.2h-9.2zM971.01 854.63h9.2v9.2h-9.2zM981.68 833.3h9.2v9.2h-9.2zM981.68 822.63h9.2v9.2h-9.2zM1013.68 758.62h9.2v9.2h-9.2zM1013.68 747.95h9.2v9.2h-9.2zM1013.68 737.28h9.2v9.2h-9.2zM1024.35 726.62h9.2v9.2h-9.2zM1024.35 715.95h9.2v9.2h-9.2zM1035.02 694.61h9.2v9.2h-9.2zM1045.68 683.94h9.2v9.2h-9.2zM1045.68 673.28h9.2v9.2h-9.2zM1056.35 641.27h9.2v9.2h-9.2zM1067.02 619.94h9.2v9.2h-9.2zM1067.02 609.27h9.2v9.2h-9.2zM1067.02 598.6h9.2v9.2h-9.2zM1003.01 577.26h9.2v9.2h-9.2zM1003.01 534.59h9.2v9.2h-9.2zM1077.69 513.26h9.2v9.2h-9.2zM1152.36 438.58h9.2v9.2h-9.2zM1163.03 417.24h9.2v9.2h-9.2zM1216.37 310.56h9.2v9.2h-9.2zM1237.71 299.9h9.2v9.2h-9.2zM1205.7 289.23h9.2v9.2h-9.2z"/>
<path fill="#5555ff" d="M170.91 1900.1h9.2v9.2h-9.2zM170.91 1836.09h9.2v9.2h-9.2zM181.58 1836.09h9.2v9.2h-9.2zM234.92 1836.09h9.2v9.2h-9.2zM170.91 1825.42h9.2v9.2h-9.2zM256.25 1825.42h9.2v9.2h-9.2zM181.58 1814.75h9.2v9.2h-9.2zM256.25 1814.75h9.2v9.2h-9.2zM181.58 1804.08h9.2v9.2h-9.2zM266.92 1804.08h9.2v9.2h-9.2zM192.24 1793.42h9.2v9.2h-9.2zM277.59 1793.42h9.2v9.2h-9.2zM288.26 1782.75h9.2v9.2h-9.2zM202.91 1772.08h9.2v9.2h-9.2zM298.92 1772.08h9.2v9.2h-9.2zM202.91 1761.41h9.2v9.2h-9.2zM309.59 1761.41h9.2v9.2h-9.2zM320.26 1750.74h9.2v9.2h-9.2zM234.92 1729.41h9.2v9.2h-9.2zM245.58 1729.41h9.2v9.2h-9.2zM341.6 1729.41h9.2v9.2h-9.2zM234.92 1718.74h9.2v9.2h-9.2zM352.26 1718.74h9.2v9.2h-9.2zM245.58 1708.07h9.2v9.2h-9.2zM352.26 1708.07h9.2v9.2h-9.2zM245.58 1697.4h9.2v9.2h-9.2zM362.93 1697.4h9.2v9.2h-9.2zM256.25 1686.74h9.2v9.2h-9.2zM373.6 1686.74h9.2v9.2h-9.2zM384.27 1676.07h9.2v9.2h-9.2zM394.94 1665.4h9.2v9.2h-9.2zM405.6 1654.73h9.2v9.2h-9.2zM416.27 1644.06h9.2v9.2h-9.2zM288.26 1633.4h9.2v9.2h-9.2zM426.94 1633.4h9.2v9.2h-9.2zM437.61 1622.73h9.2v9.2h-9.2zM448.28 1612.06h9.2v9.2h-9.2zM320.26 1601.39h9.2v9.2h-9.2zM448.28 1601.39h9.2v9.2h-9.2zM320.26 1590.72h9.2v9.2h-9.2zM330.93 1580.06h9.2v9.2h-9.2zM469.61 1580.06h9.2v9.2h-9.2zM330.93 1558.72h9.2v9.2h-9.2zM490.95 1558.72h9.2v9.2h-9.2zM341.6 1548.05h9.2v9.2h-9.2zM352.26 1537.38h9.2v9.2h-9.2zM362.93 1526.72h9.2v9.2h-9.2zM522.95 1526.72h9.2v9.2h-9.2zM362.93 1516.05h9.2v9.2h-9.2zM522.95 1516.05h9.2v9.2h-9.2zM373.6 1505.38h9.2v9.2h-9.2zM544.29 1494.71h9.2v9.2h-9.2zM384.27 1484.04h9.2v9.2h-9.2zM565.62 1484.04h9.2v9.2h-9.2zM394.94 1473.38h9.2v9.2h-9.2zM565.62 1473.38h9.2v9.2h-9.2zM576.29 1462.71h9.2v9.2h-9.2zM405.6 1452.04h9.2v9.2h-9.2zM586.96 1452.04h9.2v9.2h-9.2zM416.27 1441.37h9.2v9.2h-9.2zM416.27 1430.7h9.2v9.2h-9.2zM608.3 1430.7h9.2v9.2h-9.2zM426.94 1420.04h9.2v9.2h-9.2zM416.27 1409.37h9.2v9.2h-9.2zM426.94 1398.7h9.2v9.2h-9.2zM426.94 1388.03h9.2v9.2h-9.2zM448.28 1377.36h9.2v9.2h-9.2zM448.28 1366.7h9.2v9.2h-9.2zM650.97 1366.7h9.2v9.2h-9.2zM661.64 1345.36h9.2v9.2h-9.2zM490.95 1334.69h9.2v9.2h-9.2zM661.64 1334.69h9.2v9.2h-9.2zM480.28 1324.02h9.2v9.2h-9.2zM693.64 1324.02h9.2v9.2h-9.2zM490.95 1313.36h9.2v9.2h-9.2zM682.97 1313.36h9.2v9.2h-9.2zM490.95 1302.69h9.2v9.2h-9.2zM501.62 1292.02h9.2v9.2h-9.2zM501.62 1281.35h9.2v9.2h-9.2zM501.62 1270.68h9.2v9.2h-9.2zM736.31 1270.68h9.2v9.2h-9.2zM512.28 1260.02h9.2v9.2h-9.2zM512.28 1249.35h9.2v9.2h-9.2zM512.28 1238.68h9.2v9.2h-9.2zM512.28 1228.01h9.2v9.2h-9.2zM522.95 1217.34h9.2v9.2h-9.2zM778.98 1217.34h9.2v9.2h-9.2zM522.95 1206.68h9.2v9.2h-9.2zM533.62 1196.01h9.2v9.2h-9.2zM544.29 1185.34h9.2v9.2h-9.2zM544.29 1174.67h9.2v9.2h-9.2zM554.96 1153.34h9.2v9.2h-9.2zM821.66 1153.34h9.2v9.2h-9.2zM586.96 1132h9.2v9.2h-9.2zM586.96 1121.33h9.2v9.2h-9.2zM597.63 1110.66h9.2v9.2h-9.2zM597.63 1100h9.2v9.2h-9.2zM608.3 1089.33h9.2v9.2h-9.2zM608.3 1078.66h9.2v9.2h-9.2zM608.3 1067.99h9.2v9.2h-9.2zM885.66 1057.32h9.2v9.2h-9.2zM608.3 1046.66h9.2v9.2h-9.2zM885.66 1046.66h9.2v9.2h-9.2zM864.33 1035.99h9.2v9.2h-9.2zM875 1025.32h9.2v9.2h-9.2zM896.33 1014.65h9.2v9.2h-9.2zM907 1003.98h9.2v9.2h-9.2zM917.67 982.65h9.2v9.2h-9.2zM939 971.98h9.2v9.2h-9.2zM939 961.31h9.2v9.2h-9.2zM939 939.98h9.2v9.2h-9.2zM939 929.31h9.2v9.2h-9.2zM949.67 918.64h9.2v9.2h-9.2zM949.67 907.97h9.2v9.2h-9.2zM960.34 897.3h9.2v9.2h-9.2zM960.34 886.64h9.2v9.2h-9.2zM981.68 875.97h9.2v9.2h-9.2zM981.68 843.96h9.2v9.2h-9.2zM1003.01 779.96h9.2v9.2h-9.2zM1173.7 395.91h9.2v9.2h-9.2zM1205.7 342.57h9.2v9.2h-9.2zM1205.7 331.9h9.2v9.2h-9.2zM1227.04 310.56h9.2v9.2h-9.2zM1216.37 289.23h9.2v9.2h-9.2zM1227.04 289.23h9.2v9.2h-9.2zM1237.71 278.56h9.2v9.2h-9.2zM1216.37 267.89h9.2v9.2h-9.2zM1195.04 246.56h9.2v9.2h-9.2zM1237.71 246.56h9.2v9.2h-9.2zM1259.04 235.89h9.2v9.2h-9.2zM1259.04 150.54h9.2v9.2h-9.2zM1291.05 139.88h9.2v9.2h-9.2zM1280.38 129.21h9.2v9.2h-9.2zM1312.38 129.21h9.2v9.2h-9.2zM1312.38 118.54h9.2v9.2h-9.2zM1301.72 97.2h9.2v9.2h-9.2zM1323.05 97.2h9.2v9.2h-9.2zM1333.72 97.2h9.2v9.2h-9.2zM1333.72 86.54h9.2v9.2h-9.2zM1333.72 75.87h9.2v9.2h-9.2zM1333.72 65.2h9.2v9.2h-9.2zM1344.39 43.86h9.2v9.2h-9.2zM1355.06 43.86h9.2v9.2h-9.2z"/>
<path fill="#6060ff" d="M128.24 1889.43h9.2v9.2h-9.2zM138.9 1878.76h9.2v9.2h-9.2zM192.24 1878.76h9.2v9.2h-9.2zM128.24 1868.09h9.2v9.2h-9.2zM138.9 1868.09h9.2v9.2h-9.2zM149.57 1857.42h9.2v9.2h-9.2zM160.24 1857.42h9.2v9.2h-9.2zM213.58 1857.42h9.2v9.2h-9.2zM138.9 1846.76h9.2v9.2h-9.2zM149.57 1846.76h9.2v9.2h-9.2zM160.24 1846.76h9.2v9.2h-9.2zM234.92 1846.76h9.2v9.2h-9.2zM256.25 1846.76h9.2v9.2h-9.2zM160.24 1836.09h9.2v9.2h-9.2zM245.58 1836.09h9.2v9.2h-9.2zM256.25 1836.09h9.2v9.2h-9.2zM149.57 1825.42h9.2v9.2h-9.2zM160.24 1825.42h9.2v9.2h-9.2zM170.91 1814.75h9.2v9.2h-9.2zM266.92 1814.75h9.2v9.2h-9.2zM277.59 1814.75h9.2v9.2h-9.2zM160.24 1804.08h9.2v9.2h-9.2zM170.91 1804.08h9.2v9.2h-9.2zM277.59 1804.08h9.2v9.2h-9.2zM170.91 1793.42h9.2v9.2h-9.2zM181.58 1793.42h9.2v9.2h-9.2zM298.92 1793.42h9.2v9.2h-9.2zM160.24 1782.75h9.2v9.2h-9.2zM170.91 1782.75h9.2v9.2h-9.2zM181.58 1782.75h9.2v9.2h-9.2zM298.92 1782.75h9.2v9.2h-9.2zM181.58 1772.08h9.2v9.2h-9.2zM192.24 1772.08h9.2v9.2h-9.2zM320.26 1772.08h9.2v9.2h-9.2zM170.91 1761.41h9.2v9.2h-9.2zM181.58 1761.41h9.2v9.2h-9.2zM192.24 1761.41h9.2v9.2h-9.2zM320.26 1761.41h9.2v9.2h-9.2zM202.91 1750.74h9.2v9.2h-9.2zM213.58 1750.74h9.2v9.2h-9.2zM224.25 1750.74h9.2v9.2h-9.2zM341.6 1750.74h9.2v9.2h-9.2zM202.91 1740.08h9.2v9.2h-9.2zM213.58 1740.08h9.2v9.2h-9.2zM224.25 1740.08h9.2v9.2h-9.2zM341.6 1740.08h9.2v9.2h-9.2zM362.93 1740.08h9.2v9.2h-9.2zM213.58 1729.41h9.2v9.2h-9.2zM224.25 1729.41h9.2v9.2h-9.2zM362.93 1729.41h9.2v9.2h-9.2zM384.27 1729.41h9.2v9.2h-9.2zM202.91 1718.74h9.2v9.2h-9.2zM213.58 1718.74h9.2v9.2h-9.2zM224.25 1718.74h9.2v9.2h-9.2zM362.93 1718.74h9.2v9.2h-9.2zM384.27 1718.74h9.2v9.2h-9.2zM405.6 1718.74h9.2v9.2h-9.2zM213.58 1708.07h9.2v9.2h-9.2zM224.25 1708.07h9.2v9.2h-9.2zM234.92 1708.07h9.2v9.2h-9.2zM362.93 1708.07h9.2v9.2h-9.2zM373.6 1708.07h9.2v9.2h-9.2zM384.27 1708.07h9.2v9.2h-9.2zM405.6 1708.07h9.2v9.2h-9.2zM213.58 1697.4h9.2v9.2h-9.2zM224.25 1697.4h9.2v9.2h-9.2zM234.92 1697.4h9.2v9.2h-9.2zM373.6 1697.4h9.2v9.2h-9.2zM384.27 1697.4h9.2v9.2h-9.2zM405.6 1697.4h9.2v9.2h-9.2zM224.25 1686.74h9.2v9.2h-9.2zM234.92 1686.74h9.2v9.2h-9.2zM245.58 1686.74h9.2v9.2h-9.2zM384.27 1686.74h9.2v9.2h-9.2zM394.94 1686.74h9.2v9.2h-9.2zM405.6 1686.74h9.2v9.2h-9.2zM224.25 1676.07h9.2v9.2h-9.2zM234.92 1676.07h9.2v9.2h-9.2zM405.6 1676.07h9.2v9.2h-9.2zM426.94 1676.07h9.2v9.2h-9.2zM256.25 1665.4h9.2v9.2h-9.2zM266.92 1665.4h9.2v9.2h-9.2zM405.6 1665.4h9.2v9.2h-9.2zM426.94 1665.4h9.2v9.2h-9.2zM245.58 1654.73h9.2v9.2h-9.2zM256.25 1654.73h9.2v9.2h-9.2zM266.92 1654.73h9.2v9.2h-9.2zM416.27 1654.73h9.2v9.2h-9.2zM426.94 1654.73h9.2v9.2h-9.2zM266.92 1644.06h9.2v9.2h-9.2zM277.59 1644.06h9.2v9.2h-9.2zM426.94 1644.06h9.2v9.2h-9.2zM256.25 1633.4h9.2v9.2h-9.2zM266.92 1633.4h9.2v9.2h-9.2zM277.59 1633.4h9.2v9.2h-9.2zM266.92 1622.73h9.2v9.2h-9.2zM277.59 1622.73h9.2v9.2h-9.2zM288.26 1622.73h9.2v9.2h-9.2zM448.28 1622.73h9.2v9.2h-9.2zM288.26 1612.06h9.2v9.2h-9.2zM298.92 1612.06h9.2v9.2h-9.2zM309.59 1601.39h9.2v9.2h-9.2zM458.94 1601.39h9.2v9.2h-9.2zM469.61 1601.39h9.2v9.2h-9.2zM298.92 1590.72h9.2v9.2h-9.2zM309.59 1590.72h9.2v9.2h-9.2zM320.26 1580.06h9.2v9.2h-9.2zM490.95 1580.06h9.2v9.2h-9.2zM309.59 1569.39h9.2v9.2h-9.2zM320.26 1569.39h9.2v9.2h-9.2zM330.93 1569.39h9.2v9.2h-9.2zM490.95 1569.39h9.2v9.2h-9.2zM309.59 1558.72h9.2v9.2h-9.2zM320.26 1558.72h9.2v9.2h-9.2zM512.28 1558.72h9.2v9.2h-9.2zM320.26 1548.05h9.2v9.2h-9.2zM330.93 1548.05h9.2v9.2h-9.2zM341.6 1537.38h9.2v9.2h-9.2zM512.28 1537.38h9.2v9.2h-9.2zM341.6 1526.72h9.2v9.2h-9.2zM352.26 1526.72h9.2v9.2h-9.2zM341.6 1516.05h9.2v9.2h-9.2zM352.26 1516.05h9.2v9.2h-9.2zM533.62 1516.05h9.2v9.2h-9.2zM352.26 1505.38h9.2v9.2h-9.2zM362.93 1505.38h9.2v9.2h-9.2zM352.26 1494.71h9.2v9.2h-9.2zM362.93 1494.71h9.2v9.2h-9.2zM373.6 1494.71h9.2v9.2h-9.2zM554.96 1494.71h9.2v9.2h-9.2zM362.93 1484.04h9.2v9.2h-9.2zM373.6 1484.04h9.2v9.2h-9.2zM373.6 1473.38h9.2v9.2h-9.2zM384.27 1473.38h9.2v9.2h-9.2zM373.6 1462.71h9.2v9.2h-9.2zM384.27 1462.71h9.2v9.2h-9.2zM394.94 1462.71h9.2v9.2h-9.2zM384.27 1452.04h9.2v9.2h-9.2zM394.94 1452.04h9.2v9.2h-9.2zM405.6 1441.37h9.2v9.2h-9.2zM394.94 1430.7h9.2v9.2h-9.2zM405.6 1430.7h9.2v9.2h-9.2zM405.6 1420.04h9.2v9.2h-9.2zM416.27 1420.04h9.2v9.2h-9.2zM405.6 1409.37h9.2v9.2h-9.2zM405.6 1398.7h9.2v9.2h-9.2zM416.27 1398.7h9.2v9.2h-9.2zM416.27 1388.03h9.2v9.2h-9.2zM437.61 1366.7h9.2v9.2h-9.2zM437.61 1356.03h9.2v9.2h-9.2zM448.28 1345.36h9.2v9.2h-9.2zM672.3 1345.36h9.2v9.2h-9.2zM682.97 1345.36h9.2v9.2h-9.2zM469.61 1324.02h9.2v9.2h-9.2zM480.28 1313.36h9.2v9.2h-9.2zM704.31 1313.36h9.2v9.2h-9.2zM480.28 1302.69h9.2v9.2h-9.2zM490.95 1292.02h9.2v9.2h-9.2zM490.95 1281.35h9.2v9.2h-9.2zM490.95 1270.68h9.2v9.2h-9.2zM490.95 1260.02h9.2v9.2h-9.2zM501.62 1260.02h9.2v9.2h-9.2zM490.95 1249.35h9.2v9.2h-9.2zM501.62 1249.35h9.2v9.2h-9.2zM501.62 1238.68h9.2v9.2h-9.2zM512.28 1217.34h9.2v9.2h-9.2zM778.98 1206.68h9.2v9.2h-9.2zM522.95 1196.01h9.2v9.2h-9.2zM533.62 1185.34h9.2v9.2h-9.2zM800.32 1185.34h9.2v9.2h-9.2zM554.96 1164h9.2v9.2h-9.2zM565.62 1142.67h9.2v9.2h-9.2zM821.66 1142.67h9.2v9.2h-9.2zM864.33 1078.66h9.2v9.2h-9.2zM896.33 1046.66h9.2v9.2h-9.2zM875 1035.99h9.2v9.2h-9.2zM885.66 1035.99h9.2v9.2h-9.2zM896.33 1035.99h9.2v9.2h-9.2zM885.66 1025.32h9.2v9.2h-9.2zM928.34 982.65h9.2v9.2h-9.2zM939 982.65h9.2v9.2h-9.2zM693.64 918.64h9.2v9.2h-9.2zM960.34 918.64h9.2v9.2h-9.2zM971.01 918.64h9.2v9.2h-9.2zM693.64 907.97h9.2v9.2h-9.2zM960.34 907.97h9.2v9.2h-9.2zM971.01 897.3h9.2v9.2h-9.2zM981.68 897.3h9.2v9.2h-9.2zM971.01 886.64h9.2v9.2h-9.2zM981.68 886.64h9.2v9.2h-9.2zM981.68 865.3h9.2v9.2h-9.2zM981.68 854.63h9.2v9.2h-9.2zM992.34 833.3h9.2v9.2h-9.2zM992.34 811.96h9.2v9.2h-9.2zM1003.01 790.62h9.2v9.2h-9.2zM1013.68 769.29h9.2v9.2h-9.2zM1024.35 758.62h9.2v9.2h-9.2zM1024.35 747.95h9.2v9.2h-9.2zM1024.35 737.28h9.2v9.2h-9.2zM1035.02 715.95h9.2v9.2h-9.2zM1035.02 705.28h9.2v9.2h-9.2zM1045.68 694.61h9.2v9.2h-9.2zM1056.35 683.94h9.2v9.2h-9.2zM1056.35 662.61h9.2v9.2h-9.2zM1056.35 651.94h9.2v9.2h-9.2zM1067.02 641.27h9.2v9.2h-9.2zM1067.02 630.6h9.2v9.2h-9.2zM1077.69 619.94h9.2v9.2h-9.2zM1077.69 609.27h9.2v9.2h-9.2zM1077.69 598.6h9.2v9.2h-9.2zM1056.35 587.93h9.2v9.2h-9.2zM1013.68 577.26h9.2v9.2h-9.2zM1013.68 523.92h9.2v9.2h-9.2zM1088.36 513.26h9.2v9.2h-9.2zM1173.7 406.58h9.2v9.2h-9.2zM1227.04 331.9h9.2v9.2h-9.2zM1237.71 310.56h9.2v9.2h-9.2zM1248.38 299.9h9.2v9.2h-9.2zM1237.71 289.23h9.2v9.2h-9.2z"/>
<path fill="#3e3eff" d="M170.91 1889.43h9.2v9.2h-9.2zM181.58 1878.76h9.2v9.2h-9.2zM224.25 1825.42h9.2v9.2h-9.2zM234.92 1825.42h9.2v9.2h-9.2zM234.92 1814.75h9.2v9.2h-9.2zM202.91 1804.08h9.2v9.2h-9.2zM245.58 1804.08h9.2v9.2h-9.2zM256.25 1793.42h9.2v9.2h-9.2zM266.92 1782.75h9.2v9.2h-9.2zM224.25 1761.41h9.2v9.2h-9.2zM288.26 1761.41h9.2v9.2h-9.2zM288.26 1750.74h9.2v9.2h-9.2zM298.92 1750.74h9.2v9.2h-9.2zM245.58 1740.08h9.2v9.2h-9.2zM309.59 1740.08h9.2v9.2h-9.2zM320.26 1740.08h9.2v9.2h-9.2zM266.92 1729.41h9.2v9.2h-9.2zM330.93 1718.74h9.2v9.2h-9.2zM330.93 1708.07h9.2v9.2h-9.2zM277.59 1676.07h9.2v9.2h-9.2zM309.59 1633.4h9.2v9.2h-9.2zM416.27 1622.73h9.2v9.2h-9.2zM320.26 1612.06h9.2v9.2h-9.2zM437.61 1612.06h9.2v9.2h-9.2zM437.61 1601.39h9.2v9.2h-9.2zM341.6 1590.72h9.2v9.2h-9.2zM352.26 1580.06h9.2v9.2h-9.2zM362.93 1580.06h9.2v9.2h-9.2zM373.6 1580.06h9.2v9.2h-9.2zM458.94 1580.06h9.2v9.2h-9.2zM352.26 1569.39h9.2v9.2h-9.2zM362.93 1569.39h9.2v9.2h-9.2zM373.6 1569.39h9.2v9.2h-9.2zM352.26 1558.72h9.2v9.2h-9.2zM362.93 1558.72h9.2v9.2h-9.2zM480.28 1558.72h9.2v9.2h-9.2zM362.93 1548.05h9.2v9.2h-9.2zM373.6 1537.38h9.2v9.2h-9.2zM384.27 1537.38h9.2v9.2h-9.2zM384.27 1526.72h9.2v9.2h-9.2zM394.94 1526.72h9.2v9.2h-9.2zM512.28 1526.72h9.2v9.2h-9.2zM384.27 1516.05h9.2v9.2h-9.2zM512.28 1516.05h9.2v9.2h-9.2zM394.94 1505.38h9.2v9.2h-9.2zM533.62 1505.38h9.2v9.2h-9.2zM394.94 1494.71h9.2v9.2h-9.2zM533.62 1494.71h9.2v9.2h-9.2zM405.6 1484.04h9.2v9.2h-9.2zM416.27 1484.04h9.2v9.2h-9.2zM565.62 1452.04h9.2v9.2h-9.2zM586.96 1441.37h9.2v9.2h-9.2zM597.63 1441.37h9.2v9.2h-9.2zM586.96 1430.7h9.2v9.2h-9.2zM597.63 1420.04h9.2v9.2h-9.2zM608.3 1420.04h9.2v9.2h-9.2zM618.96 1420.04h9.2v9.2h-9.2zM618.96 1409.37h9.2v9.2h-9.2zM448.28 1398.7h9.2v9.2h-9.2zM629.63 1398.7h9.2v9.2h-9.2zM640.3 1398.7h9.2v9.2h-9.2zM629.63 1388.03h9.2v9.2h-9.2zM640.3 1388.03h9.2v9.2h-9.2zM640.3 1377.36h9.2v9.2h-9.2zM640.3 1366.7h9.2v9.2h-9.2zM458.94 1356.03h9.2v9.2h-9.2zM469.61 1356.03h9.2v9.2h-9.2zM480.28 1356.03h9.2v9.2h-9.2zM469.61 1345.36h9.2v9.2h-9.2zM480.28 1345.36h9.2v9.2h-9.2zM490.95 1345.36h9.2v9.2h-9.2zM650.97 1345.36h9.2v9.2h-9.2zM501.62 1334.69h9.2v9.2h-9.2zM512.28 1324.02h9.2v9.2h-9.2zM522.95 1324.02h9.2v9.2h-9.2zM661.64 1324.02h9.2v9.2h-9.2zM672.3 1324.02h9.2v9.2h-9.2zM522.95 1302.69h9.2v9.2h-9.2zM533.62 1302.69h9.2v9.2h-9.2zM682.97 1302.69h9.2v9.2h-9.2zM693.64 1302.69h9.2v9.2h-9.2zM704.31 1302.69h9.2v9.2h-9.2zM533.62 1292.02h9.2v9.2h-9.2zM682.97 1292.02h9.2v9.2h-9.2zM693.64 1292.02h9.2v9.2h-9.2zM704.31 1292.02h9.2v9.2h-9.2zM533.62 1281.35h9.2v9.2h-9.2zM704.31 1281.35h9.2v9.2h-9.2zM533.62 1270.68h9.2v9.2h-9.2zM704.31 1270.68h9.2v9.2h-9.2zM533.62 1260.02h9.2v9.2h-9.2zM704.31 1260.02h9.2v9.2h-9.2zM714.98 1260.02h9.2v9.2h-9.2zM725.64 1260.02h9.2v9.2h-9.2zM736.31 1260.02h9.2v9.2h-9.2zM533.62 1249.35h9.2v9.2h-9.2zM544.29 1249.35h9.2v9.2h-9.2zM736.31 1249.35h9.2v9.2h-9.2zM544.29 1238.68h9.2v9.2h-9.2zM554.96 1238.68h9.2v9.2h-9.2zM725.64 1238.68h9.2v9.2h-9.2zM736.31 1238.68h9.2v9.2h-9.2zM746.98 1238.68h9.2v9.2h-9.2zM544.29 1228.01h9.2v9.2h-9.2zM554.96 1228.01h9.2v9.2h-9.2zM736.31 1228.01h9.2v9.2h-9.2zM544.29 1217.34h9.2v9.2h-9.2zM554.96 1217.34h9.2v9.2h-9.2zM565.62 1217.34h9.2v9.2h-9.2zM576.29 1217.34h9.2v9.2h-9.2zM736.31 1217.34h9.2v9.2h-9.2zM746.98 1217.34h9.2v9.2h-9.2zM757.65 1217.34h9.2v9.2h-9.2zM554.96 1206.68h9.2v9.2h-9.2zM565.62 1206.68h9.2v9.2h-9.2zM576.29 1206.68h9.2v9.2h-9.2zM746.98 1206.68h9.2v9.2h-9.2zM757.65 1206.68h9.2v9.2h-9.2zM554.96 1196.01h9.2v9.2h-9.2zM565.62 1196.01h9.2v9.2h-9.2zM576.29 1196.01h9.2v9.2h-9.2zM746.98 1196.01h9.2v9.2h-9.2zM757.65 1196.01h9.2v9.2h-9.2zM768.32 1196.01h9.2v9.2h-9.2zM565.62 1185.34h9.2v9.2h-9.2zM576.29 1185.34h9.2v9.2h-9.2zM586.96 1185.34h9.2v9.2h-9.2zM768.32 1185.34h9.2v9.2h-9.2zM576.29 1174.67h9.2v9.2h-9.2zM586.96 1174.67h9.2v9.2h-9.2zM597.63 1174.67h9.2v9.2h-9.2zM768.32 1174.67h9.2v9.2h-9.2zM778.98 1174.67h9.2v9.2h-9.2zM789.65 1174.67h9.2v9.2h-9.2zM586.96 1164h9.2v9.2h-9.2zM597.63 1164h9.2v9.2h-9.2zM778.98 1164h9.2v9.2h-9.2zM586.96 1153.34h9.2v9.2h-9.2zM597.63 1153.34h9.2v9.2h-9.2zM778.98 1153.34h9.2v9.2h-9.2zM789.65 1153.34h9.2v9.2h-9.2zM597.63 1142.67h9.2v9.2h-9.2zM608.3 1142.67h9.2v9.2h-9.2zM618.96 1142.67h9.2v9.2h-9.2zM629.63 1142.67h9.2v9.2h-9.2zM789.65 1142.67h9.2v9.2h-9.2zM800.32 1142.67h9.2v9.2h-9.2zM618.96 1132h9.2v9.2h-9.2zM629.63 1132h9.2v9.2h-9.2zM800.32 1132h9.2v9.2h-9.2zM810.99 1132h9.2v9.2h-9.2zM821.66 1132h9.2v9.2h-9.2zM618.96 1121.33h9.2v9.2h-9.2zM629.63 1121.33h9.2v9.2h-9.2zM810.99 1121.33h9.2v9.2h-9.2zM810.99 1110.66h9.2v9.2h-9.2zM821.66 1110.66h9.2v9.2h-9.2zM821.66 1100h9.2v9.2h-9.2zM810.99 1089.33h9.2v9.2h-9.2zM821.66 1089.33h9.2v9.2h-9.2zM832.32 1078.66h9.2v9.2h-9.2zM842.99 1078.66h9.2v9.2h-9.2zM832.32 1067.99h9.2v9.2h-9.2zM842.99 1067.99h9.2v9.2h-9.2zM853.66 1067.99h9.2v9.2h-9.2zM864.33 1067.99h9.2v9.2h-9.2zM608.3 1057.32h9.2v9.2h-9.2zM618.96 1057.32h9.2v9.2h-9.2zM853.66 1057.32h9.2v9.2h-9.2zM864.33 1057.32h9.2v9.2h-9.2zM629.63 1046.66h9.2v9.2h-9.2zM640.3 1046.66h9.2v9.2h-9.2zM853.66 1046.66h9.2v9.2h-9.2zM864.33 1046.66h9.2v9.2h-9.2zM618.96 1035.99h9.2v9.2h-9.2zM629.63 1035.99h9.2v9.2h-9.2zM640.3 1035.99h9.2v9.2h-9.2zM842.99 1035.99h9.2v9.2h-9.2zM618.96 1025.32h9.2v9.2h-9.2zM629.63 1025.32h9.2v9.2h-9.2zM640.3 1025.32h9.2v9.2h-9.2zM650.97 1025.32h9.2v9.2h-9.2zM661.64 1025.32h9.2v9.2h-9.2zM853.66 1025.32h9.2v9.2h-9.2zM629.63 1014.65h9.2v9.2h-9.2zM640.3 1014.65h9.2v9.2h-9.2zM650.97 1014.65h9.2v9.2h-9.2zM661.64 1014.65h9.2v9.2h-9.2zM875 1014.65h9.2v9.2h-9.2zM640.3 1003.98h9.2v9.2h-9.2zM650.97 1003.98h9.2v9.2h-9.2zM672.3 1003.98h9.2v9.2h-9.2zM682.97 1003.98h9.2v9.2h-9.2zM875 1003.98h9.2v9.2h-9.2zM885.66 1003.98h9.2v9.2h-9.2zM650.97 993.32h9.2v9.2h-9.2zM672.3 993.32h9.2v9.2h-9.2zM682.97 993.32h9.2v9.2h-9.2zM896.33 993.32h9.2v9.2h-9.2zM672.3 982.65h9.2v9.2h-9.2zM682.97 982.65h9.2v9.2h-9.2zM693.64 982.65h9.2v9.2h-9.2zM704.31 982.65h9.2v9.2h-9.2zM896.33 982.65h9.2v9.2h-9.2zM672.3 971.98h9.2v9.2h-9.2zM682.97 971.98h9.2v9.2h-9.2zM693.64 971.98h9.2v9.2h-9.2zM704.31 971.98h9.2v9.2h-9.2zM896.33 971.98h9.2v9.2h-9.2zM907 971.98h9.2v9.2h-9.2zM917.67 971.98h9.2v9.2h-9.2zM682.97 961.31h9.2v9.2h-9.2zM693.64 961.31h9.2v9.2h-9.2zM704.31 961.31h9.2v9.2h-9.2zM714.98 961.31h9.2v9.2h-9.2zM725.64 961.31h9.2v9.2h-9.2zM896.33 961.31h9.2v9.2h-9.2zM907 961.31h9.2v9.2h-9.2zM917.67 961.31h9.2v9.2h-9.2zM682.97 950.64h9.2v9.2h-9.2zM693.64 950.64h9.2v9.2h-9.2zM704.31 950.64h9.2v9.2h-9.2zM714.98 950.64h9.2v9.2h-9.2zM907 950.64h9.2v9.2h-9.2zM917.67 950.64h9.2v9.2h-9.2zM682.97 939.98h9.2v9.2h-9.2zM693.64 939.98h9.2v9.2h-9.2zM704.31 939.98h9.2v9.2h-9.2zM714.98 939.98h9.2v9.2h-9.2zM725.64 939.98h9.2v9.2h-9.2zM917.67 939.98h9.2v9.2h-9.2zM693.64 929.31h9.2v9.2h-9.2zM704.31 929.31h9.2v9.2h-9.2zM725.64 929.31h9.2v9.2h-9.2zM917.67 929.31h9.2v9.2h-9.2zM736.31 918.64h9.2v9.2h-9.2zM917.67 918.64h9.2v9.2h-9.2zM928.34 918.64h9.2v9.2h-9.2zM746.98 907.97h9.2v9.2h-9.2zM757.65 897.3h9.2v9.2h-9.2zM928.34 897.3h9.2v9.2h-9.2zM939 897.3h9.2v9.2h-9.2zM757.65 886.64h9.2v9.2h-9.2zM768.32 886.64h9.2v9.2h-9.2zM939 886.64h9.2v9.2h-9.2zM768.32 875.97h9.2v9.2h-9.2zM949.67 875.97h9.2v9.2h-9.2zM960.34 875.97h9.2v9.2h-9.2zM768.32 865.3h9.2v9.2h-9.2zM960.34 865.3h9.2v9.2h-9.2zM778.98 854.63h9.2v9.2h-9.2zM960.34 854.63h9.2v9.2h-9.2zM778.98 843.96h9.2v9.2h-9.2zM960.34 843.96h9.2v9.2h-9.2zM971.01 843.96h9.2v9.2h-9.2zM971.01 833.3h9.2v9.2h-9.2zM821.66 822.63h9.2v9.2h-9.2zM981.68 811.96h9.2v9.2h-9.2zM992.34 801.29h9.2v9.2h-9.2zM992.34 790.62h9.2v9.2h-9.2zM1003.01 769.29h9.2v9.2h-9.2zM1024.35 705.28h9.2v9.2h-9.2zM885.66 683.94h9.2v9.2h-9.2zM885.66 662.61h9.2v9.2h-9.2zM1045.68 662.61h9.2v9.2h-9.2zM1045.68 651.94h9.2v9.2h-9.2zM928.34 630.6h9.2v9.2h-9.2zM1056.35 630.6h9.2v9.2h-9.2zM917.67 619.94h9.2v9.2h-9.2zM917.67 609.27h9.2v9.2h-9.2zM1045.68 587.93h9.2v9.2h-9.2zM1013.68 513.26h9.2v9.2h-9.2zM1067.02 513.26h9.2v9.2h-9.2zM1077.69 502.59h9.2v9.2h-9.2zM1088.36 502.59h9.2v9.2h-9.2zM1099.02 502.59h9.2v9.2h-9.2zM1109.69 502.59h9.2v9.2h-9.2zM1152.36 449.25h9.2v9.2h-9.2zM1163.03 406.58h9.2v9.2h-9.2zM1184.37 385.24h9.2v9.2h-9.2zM1184.37 374.57h9.2v9.2h-9.2zM1227.04 321.23h9.2v9.2h-9.2zM1227.04 299.9h9.2v9.2h-9.2zM1205.7 278.56h9.2v9.2h-9.2zM1216.37 278.56h9.2v9.2h-9.2zM1227.04 278.56h9.2v9.2h-9.2zM1205.7 267.89h9.2v9.2h-9.2zM1227.04 267.89h9.2v9.2h-9.2zM1216.37 257.22h9.2v9.2h-9.2zM1237.71 257.22h9.2v9.2h-9.2zM1248.38 257.22h9.2v9.2h-9.2zM1216.37 246.56h9.2v9.2h-9.2zM1227.04 246.56h9.2v9.2h-9.2zM1248.38 246.56h9.2v9.2h-9.2zM1173.7 235.89h9.2v9.2h-9.2zM1248.38 235.89h9.2v9.2h-9.2zM1259.04 225.22h9.2v9.2h-9.2zM1259.04 214.55h9.2v9.2h-9.2zM1259.04 203.88h9.2v9.2h-9.2zM1269.71 171.88h9.2v9.2h-9.2zM1269.71 150.54h9.2v9.2h-9.2zM1269.71 129.21h9.2v9.2h-9.2zM1291.05 129.21h9.2v9.2h-9.2zM1291.05 107.87h9.2v9.2h-9.2zM1301.72 107.87h9.2v9.2h-9.2zM1312.38 107.87h9.2v9.2h-9.2zM1312.38 97.2h9.2v9.2h-9.2zM1323.05 86.54h9.2v9.2h-9.2zM1323.05 75.87h9.2v9.2h-9.2zM1323.05 65.2h9.2v9.2h-9.2z"/>
<path fill="#08b8d0" d="M170.91 1878.76h9.2v9.2h-9.2zM181.58 1868.09h9.2v9.2h-9.2zM202.91 1836.09h9.2v9.2h-9.2zM234.92 1772.08h9.2v9.2h-9.2zM245.58 1761.41h9.2v9.2h-9.2zM256.25 1750.74h9.2v9.2h-9.2zM309.59 1729.41h9.2v9.2h-9.2zM288.26 1708.07h9.2v9.2h-9.2zM277.59 1697.4h9.2v9.2h-9.2zM288.26 1697.4h9.2v9.2h-9.2zM330.93 1697.4h9.2v9.2h-9.2zM298.92 1686.74h9.2v9.2h-9.2zM330.93 1686.74h9.2v9.2h-9.2zM341.6 1686.74h9.2v9.2h-9.2zM352.26 1676.07h9.2v9.2h-9.2zM309.59 1665.4h9.2v9.2h-9.2zM362.93 1665.4h9.2v9.2h-9.2zM298.92 1654.73h9.2v9.2h-9.2zM309.59 1654.73h9.2v9.2h-9.2zM373.6 1654.73h9.2v9.2h-9.2zM330.93 1633.4h9.2v9.2h-9.2zM373.6 1601.39h9.2v9.2h-9.2zM416.27 1601.39h9.2v9.2h-9.2zM416.27 1590.72h9.2v9.2h-9.2zM416.27 1580.06h9.2v9.2h-9.2zM426.94 1580.06h9.2v9.2h-9.2zM394.94 1569.39h9.2v9.2h-9.2zM437.61 1569.39h9.2v9.2h-9.2zM448.28 1569.39h9.2v9.2h-9.2zM384.27 1558.72h9.2v9.2h-9.2zM448.28 1558.72h9.2v9.2h-9.2zM458.94 1548.05h9.2v9.2h-9.2zM469.61 1548.05h9.2v9.2h-9.2zM405.6 1537.38h9.2v9.2h-9.2zM437.61 1537.38h9.2v9.2h-9.2zM458.94 1537.38h9.2v9.2h-9.2zM490.95 1526.72h9.2v9.2h-9.2zM426.94 1516.05h9.2v9.2h-9.2zM437.61 1516.05h9.2v9.2h-9.2zM480.28 1516.05h9.2v9.2h-9.2zM480.28 1505.38h9.2v9.2h-9.2zM490.95 1494.71h9.2v9.2h-9.2zM501.62 1494.71h9.2v9.2h-9.2zM437.61 1484.04h9.2v9.2h-9.2zM501.62 1484.04h9.2v9.2h-9.2zM512.28 1484.04h9.2v9.2h-9.2zM437.61 1473.38h9.2v9.2h-9.2zM448.28 1473.38h9.2v9.2h-9.2zM480.28 1473.38h9.2v9.2h-9.2zM512.28 1473.38h9.2v9.2h-9.2zM501.62 1462.71h9.2v9.2h-9.2zM533.62 1462.71h9.2v9.2h-9.2zM458.94 1452.04h9.2v9.2h-9.2zM480.28 1452.04h9.2v9.2h-9.2zM522.95 1452.04h9.2v9.2h-9.2zM448.28 1441.37h9.2v9.2h-9.2zM522.95 1441.37h9.2v9.2h-9.2zM554.96 1441.37h9.2v9.2h-9.2zM469.61 1430.7h9.2v9.2h-9.2zM533.62 1430.7h9.2v9.2h-9.2zM544.29 1430.7h9.2v9.2h-9.2zM480.28 1420.04h9.2v9.2h-9.2zM544.29 1420.04h9.2v9.2h-9.2zM554.96 1420.04h9.2v9.2h-9.2zM469.61 1409.37h9.2v9.2h-9.2zM480.28 1409.37h9.2v9.2h-9.2zM554.96 1409.37h9.2v9.2h-9.2zM565.62 1398.7h9.2v9.2h-9.2zM576.29 1398.7h9.2v9.2h-9.2zM490.95 1388.03h9.2v9.2h-9.2zM565.62 1388.03h9.2v9.2h-9.2zM576.29 1388.03h9.2v9.2h-9.2zM490.95 1377.36h9.2v9.2h-9.2zM501.62 1377.36h9.2v9.2h-9.2zM586.96 1377.36h9.2v9.2h-9.2zM597.63 1377.36h9.2v9.2h-9.2zM522.95 1366.7h9.2v9.2h-9.2zM597.63 1366.7h9.2v9.2h-9.2zM512.28 1356.03h9.2v9.2h-9.2zM608.3 1356.03h9.2v9.2h-9.2zM522.95 1345.36h9.2v9.2h-9.2zM597.63 1345.36h9.2v9.2h-9.2zM608.3 1345.36h9.2v9.2h-9.2zM544.29 1334.69h9.2v9.2h-9.2zM608.3 1334.69h9.2v9.2h-9.2zM618.96 1334.69h9.2v9.2h-9.2zM608.3 1324.02h9.2v9.2h-9.2zM618.96 1324.02h9.2v9.2h-9.2zM565.62 1313.36h9.2v9.2h-9.2zM629.63 1313.36h9.2v9.2h-9.2zM640.3 1313.36h9.2v9.2h-9.2zM554.96 1302.69h9.2v9.2h-9.2zM608.3 1302.69h9.2v9.2h-9.2zM618.96 1302.69h9.2v9.2h-9.2zM629.63 1302.69h9.2v9.2h-9.2zM640.3 1302.69h9.2v9.2h-9.2zM554.96 1292.02h9.2v9.2h-9.2zM629.63 1292.02h9.2v9.2h-9.2zM640.3 1292.02h9.2v9.2h-9.2zM565.62 1281.35h9.2v9.2h-9.2zM576.29 1281.35h9.2v9.2h-9.2zM629.63 1281.35h9.2v9.2h-9.2zM640.3 1281.35h9.2v9.2h-9.2zM565.62 1270.68h9.2v9.2h-9.2zM586.96 1270.68h9.2v9.2h-9.2zM650.97 1270.68h9.2v9.2h-9.2zM661.64 1270.68h9.2v9.2h-9.2zM629.63 1260.02h9.2v9.2h-9.2zM661.64 1260.02h9.2v9.2h-9.2zM576.29 1249.35h9.2v9.2h-9.2zM650.97 1249.35h9.2v9.2h-9.2zM661.64 1249.35h9.2v9.2h-9.2zM597.63 1238.68h9.2v9.2h-9.2zM608.3 1238.68h9.2v9.2h-9.2zM650.97 1238.68h9.2v9.2h-9.2zM661.64 1238.68h9.2v9.2h-9.2zM608.3 1228.01h9.2v9.2h-9.2zM650.97 1228.01h9.2v9.2h-9.2zM672.3 1228.01h9.2v9.2h-9.2zM682.97 1228.01h9.2v9.2h-9.2zM672.3 1217.34h9.2v9.2h-9.2zM682.97 1217.34h9.2v9.2h-9.2zM597.63 1206.68h9.2v9.2h-9.2zM608.3 1206.68h9.2v9.2h-9.2zM629.63 1206.68h9.2v9.2h-9.2zM672.3 1206.68h9.2v9.2h-9.2zM704.31 1206.68h9.2v9.2h-9.2zM618.96 1196.01h9.2v9.2h-9.2zM650.97 1196.01h9.2v9.2h-9.2zM682.97 1196.01h9.2v9.2h-9.2zM618.96 1185.34h9.2v9.2h-9.2zM693.64 1185.34h9.2v9.2h-9.2zM704.31 1185.34h9.2v9.2h-9.2zM704.31 1174.67h9.2v9.2h-9.2zM693.64 1164h9.2v9.2h-9.2zM714.98 1164h9.2v9.2h-9.2zM725.64 1164h9.2v9.2h-9.2zM704.31 1153.34h9.2v9.2h-9.2zM725.64 1153.34h9.2v9.2h-9.2zM714.98 1142.67h9.2v9.2h-9.2zM725.64 1142.67h9.2v9.2h-9.2zM746.98 1142.67h9.2v9.2h-9.2zM672.3 1132h9.2v9.2h-9.2zM693.64 1132h9.2v9.2h-9.2zM714.98 1132h9.2v9.2h-9.2zM725.64 1132h9.2v9.2h-9.2zM736.31 1132h9.2v9.2h-9.2zM746.98 1132h9.2v9.2h-9.2zM714.98 1121.33h9.2v9.2h-9.2zM736.31 1121.33h9.2v9.2h-9.2zM746.98 1121.33h9.2v9.2h-9.2zM640.3 1110.66h9.2v9.2h-9.2zM661.64 1110.66h9.2v9.2h-9.2zM736.31 1110.66h9.2v9.2h-9.2zM746.98 1110.66h9.2v9.2h-9.2zM640.3 1100h9.2v9.2h-9.2zM650.97 1100h9.2v9.2h-9.2zM736.31 1100h9.2v9.2h-9.2zM746.98 1100h9.2v9.2h-9.2zM768.32 1100h9.2v9.2h-9.2zM650.97 1089.33h9.2v9.2h-9.2zM661.64 1089.33h9.2v9.2h-9.2zM672.3 1089.33h9.2v9.2h-9.2zM746.98 1089.33h9.2v9.2h-9.2zM768.32 1089.33h9.2v9.2h-9.2zM650.97 1078.66h9.2v9.2h-9.2zM736.31 1078.66h9.2v9.2h-9.2zM757.65 1078.66h9.2v9.2h-9.2zM661.64 1067.99h9.2v9.2h-9.2zM672.3 1067.99h9.2v9.2h-9.2zM746.98 1067.99h9.2v9.2h-9.2zM768.32 1067.99h9.2v9.2h-9.2zM789.65 1067.99h9.2v9.2h-9.2zM661.64 1057.32h9.2v9.2h-9.2zM800.32 1057.32h9.2v9.2h-9.2zM693.64 1046.66h9.2v9.2h-9.2zM704.31 1046.66h9.2v9.2h-9.2zM800.32 1046.66h9.2v9.2h-9.2zM682.97 1035.99h9.2v9.2h-9.2zM693.64 1035.99h9.2v9.2h-9.2zM714.98 1035.99h9.2v9.2h-9.2zM800.32 1035.99h9.2v9.2h-9.2zM810.99 1035.99h9.2v9.2h-9.2zM704.31 1025.32h9.2v9.2h-9.2zM714.98 1025.32h9.2v9.2h-9.2zM736.31 1025.32h9.2v9.2h-9.2zM800.32 1025.32h9.2v9.2h-9.2zM810.99 1025.32h9.2v9.2h-9.2zM704.31 1014.65h9.2v9.2h-9.2zM714.98 1014.65h9.2v9.2h-9.2zM810.99 1014.65h9.2v9.2h-9.2zM736.31 1003.98h9.2v9.2h-9.2zM810.99 1003.98h9.2v9.2h-9.2zM821.66 1003.98h9.2v9.2h-9.2zM725.64 993.32h9.2v9.2h-9.2zM736.31 993.32h9.2v9.2h-9.2zM821.66 993.32h9.2v9.2h-9.2zM832.32 993.32h9.2v9.2h-9.2zM842.99 993.32h9.2v9.2h-9.2zM746.98 982.65h9.2v9.2h-9.2zM757.65 982.65h9.2v9.2h-9.2zM821.66 982.65h9.2v9.2h-9.2zM832.32 982.65h9.2v9.2h-9.2zM842.99 982.65h9.2v9.2h-9.2zM821.66 971.98h9.2v9.2h-9.2zM832.32 971.98h9.2v9.2h-9.2zM842.99 971.98h9.2v9.2h-9.2zM853.66 971.98h9.2v9.2h-9.2zM746.98 961.31h9.2v9.2h-9.2zM810.99 961.31h9.2v9.2h-9.2zM821.66 961.31h9.2v9.2h-9.2zM832.32 961.31h9.2v9.2h-9.2zM842.99 961.31h9.2v9.2h-9.2zM853.66 961.31h9.2v9.2h-9.2zM746.98 950.64h9.2v9.2h-9.2zM757.65 950.64h9.2v9.2h-9.2zM821.66 950.64h9.2v9.2h-9.2zM842.99 950.64h9.2v9.2h-9.2zM853.66 950.64h9.2v9.2h-9.2zM768.32 939.98h9.2v9.2h-9.2zM821.66 939.98h9.2v9.2h-9.2zM832.32 939.98h9.2v9.2h-9.2zM842.99 939.98h9.2v9.2h-9.2zM853.66 939.98h9.2v9.2h-9.2zM821.66 929.31h9.2v9.2h-9.2zM842.99 929.31h9.2v9.2h-9.2zM853.66 929.31h9.2v9.2h-9.2zM864.33 929.31h9.2v9.2h-9.2zM875 929.31h9.2v9.2h-9.2zM778.98 918.64h9.2v9.2h-9.2zM832.32 918.64h9.2v9.2h-9.2zM853.66 918.64h9.2v9.2h-9.2zM778.98 907.97h9.2v9.2h-9.2zM864.33 907.97h9.2v9.2h-9.2zM875 907.97h9.2v9.2h-9.2zM789.65 897.3h9.2v9.2h-9.2zM800.32 897.3h9.2v9.2h-9.2zM821.66 897.3h9.2v9.2h-9.2zM842.99 897.3h9.2v9.2h-9.2zM853.66 897.3h9.2v9.2h-9.2zM789.65 886.64h9.2v9.2h-9.2zM800.32 886.64h9.2v9.2h-9.2zM885.66 886.64h9.2v9.2h-9.2zM810.99 875.97h9.2v9.2h-9.2zM885.66 875.97h9.2v9.2h-9.2zM896.33 875.97h9.2v9.2h-9.2zM821.66 865.3h9.2v9.2h-9.2zM885.66 865.3h9.2v9.2h-9.2zM896.33 865.3h9.2v9.2h-9.2zM885.66 854.63h9.2v9.2h-9.2zM896.33 854.63h9.2v9.2h-9.2zM885.66 843.96h9.2v9.2h-9.2zM896.33 843.96h9.2v9.2h-9.2zM832.32 833.3h9.2v9.2h-9.2zM885.66 833.3h9.2v9.2h-9.2zM896.33 833.3h9.2v9.2h-9.2zM842.99 822.63h9.2v9.2h-9.2zM907 822.63h9.2v9.2h-9.2zM917.67 822.63h9.2v9.2h-9.2zM896.33 811.96h9.2v9.2h-9.2zM917.67 811.96h9.2v9.2h-9.2zM842.99 801.29h9.2v9.2h-9.2zM928.34 801.29h9.2v9.2h-9.2zM939 801.29h9.2v9.2h-9.2zM853.66 790.62h9.2v9.2h-9.2zM864.33 790.62h9.2v9.2h-9.2zM885.66 790.62h9.2v9.2h-9.2zM928.34 790.62h9.2v9.2h-9.2zM939 790.62h9.2v9.2h-9.2zM853.66 779.96h9.2v9.2h-9.2zM864.33 779.96h9.2v9.2h-9.2zM939 779.96h9.2v9.2h-9.2zM939 769.29h9.2v9.2h-9.2zM949.67 758.62h9.2v9.2h-9.2zM960.34 758.62h9.2v9.2h-9.2zM875 747.95h9.2v9.2h-9.2zM885.66 747.95h9.2v9.2h-9.2zM949.67 747.95h9.2v9.2h-9.2zM960.34 747.95h9.2v9.2h-9.2zM875 737.28h9.2v9.2h-9.2zM885.66 737.28h9.2v9.2h-9.2zM949.67 737.28h9.2v9.2h-9.2zM960.34 737.28h9.2v9.2h-9.2zM971.01 737.28h9.2v9.2h-9.2zM981.68 737.28h9.2v9.2h-9.2zM949.67 726.62h9.2v9.2h-9.2zM960.34 726.62h9.2v9.2h-9.2zM971.01 726.62h9.2v9.2h-9.2zM981.68 726.62h9.2v9.2h-9.2zM971.01 715.95h9.2v9.2h-9.2zM981.68 715.95h9.2v9.2h-9.2zM971.01 705.28h9.2v9.2h-9.2zM896.33 694.61h9.2v9.2h-9.2zM971.01 694.61h9.2v9.2h-9.2zM981.68 694.61h9.2v9.2h-9.2zM992.34 694.61h9.2v9.2h-9.2zM1003.01 694.61h9.2v9.2h-9.2zM971.01 683.94h9.2v9.2h-9.2zM981.68 683.94h9.2v9.2h-9.2zM992.34 683.94h9.2v9.2h-9.2zM1003.01 683.94h9.2v9.2h-9.2zM928.34 673.28h9.2v9.2h-9.2zM971.01 673.28h9.2v9.2h-9.2zM992.34 673.28h9.2v9.2h-9.2zM1003.01 673.28h9.2v9.2h-9.2zM992.34 662.61h9.2v9.2h-9.2zM1003.01 662.61h9.2v9.2h-9.2zM917.67 651.94h9.2v9.2h-9.2zM1003.01 651.94h9.2v9.2h-9.2zM1013.68 651.94h9.2v9.2h-9.2zM939 641.27h9.2v9.2h-9.2zM949.67 641.27h9.2v9.2h-9.2zM1003.01 641.27h9.2v9.2h-9.2zM1013.68 641.27h9.2v9.2h-9.2zM1024.35 641.27h9.2v9.2h-9.2zM949.67 630.6h9.2v9.2h-9.2zM1013.68 630.6h9.2v9.2h-9.2zM1024.35 630.6h9.2v9.2h-9.2zM1003.01 619.94h9.2v9.2h-9.2zM1013.68 619.94h9.2v9.2h-9.2zM1024.35 619.94h9.2v9.2h-9.2zM1013.68 609.27h9.2v9.2h-9.2zM1024.35 609.27h9.2v9.2h-9.2zM1013.68 598.6h9.2v9.2h-9.2zM1035.02 598.6h9.2v9.2h-9.2zM1024.35 587.93h9.2v9.2h-9.2zM981.68 577.26h9.2v9.2h-9.2zM960.34 566.6h9.2v9.2h-9.2zM981.68 555.93h9.2v9.2h-9.2zM992.34 555.93h9.2v9.2h-9.2zM992.34 545.26h9.2v9.2h-9.2zM992.34 534.59h9.2v9.2h-9.2zM981.68 523.92h9.2v9.2h-9.2zM992.34 523.92h9.2v9.2h-9.2zM1024.35 491.92h9.2v9.2h-9.2zM1056.35 491.92h9.2v9.2h-9.2zM1035.02 481.25h9.2v9.2h-9.2zM1067.02 481.25h9.2v9.2h-9.2zM1077.69 481.25h9.2v9.2h-9.2zM1024.35 470.58h9.2v9.2h-9.2zM1088.36 470.58h9.2v9.2h-9.2zM1024.35 459.92h9.2v9.2h-9.2zM1099.02 459.92h9.2v9.2h-9.2zM1109.69 459.92h9.2v9.2h-9.2zM1045.68 449.25h9.2v9.2h-9.2zM1056.35 449.25h9.2v9.2h-9.2zM1099.02 449.25h9.2v9.2h-9.2zM1109.69 449.25h9.2v9.2h-9.2zM1024.35 438.58h9.2v9.2h-9.2zM1056.35 438.58h9.2v9.2h-9.2zM1099.02 438.58h9.2v9.2h-9.2zM1109.69 438.58h9.2v9.2h-9.2zM1109.69 427.91h9.2v9.2h-9.2zM1045.68 417.24h9.2v9.2h-9.2zM1120.36 417.24h9.2v9.2h-9.2zM1131.03 417.24h9.2v9.2h-9.2zM1067.02 406.58h9.2v9.2h-9.2zM1077.69 406.58h9.2v9.2h-9.2zM1120.36 406.58h9.2v9.2h-9.2zM1131.03 406.58h9.2v9.2h-9.2zM1077.69 395.91h9.2v9.2h-9.2zM1067.02 374.57h9.2v9.2h-9.2zM1141.7 374.57h9.2v9.2h-9.2zM1152.36 374.57h9.2v9.2h-9.2zM1088.36 363.9h9.2v9.2h-9.2zM1099.02 363.9h9.2v9.2h-9.2zM1141.7 363.9h9.2v9.2h-9.2zM1152.36 363.9h9.2v9.2h-9.2zM1077.69 353.24h9.2v9.2h-9.2zM1109.69 342.57h9.2v9.2h-9.2zM1152.36 342.57h9.2v9.2h-9.2zM1088.36 331.9h9.2v9.2h-9.2zM1120.36 331.9h9.2v9.2h-9.2zM1163.03 331.9h9.2v9.2h-9.2zM1173.7 331.9h9.2v9.2h-9.2zM1120.36 321.23h9.2v9.2h-9.2zM1163.03 321.23h9.2v9.2h-9.2zM1173.7 321.23h9.2v9.2h-9.2zM1120.36 310.56h9.2v9.2h-9.2zM1184.37 310.56h9.2v9.2h-9.2zM1131.03 299.9h9.2v9.2h-9.2zM1141.7 299.9h9.2v9.2h-9.2zM1184.37 299.9h9.2v9.2h-9.2zM1141.7 289.23h9.2v9.2h-9.2zM1173.7 289.23h9.2v9.2h-9.2zM1184.37 289.23h9.2v9.2h-9.2zM1131.03 278.56h9.2v9.2h-9.2zM1184.37 278.56h9.2v9.2h-9.2zM1173.7 267.89h9.2v9.2h-9.2zM1184.37 267.89h9.2v9.2h-9.2zM1152.36 257.22h9.2v9.2h-9.2zM1163.03 257.22h9.2v9.2h-9.2zM1195.04 257.22h9.2v9.2h-9.2zM1184.37 246.56h9.2v9.2h-9.2zM1205.7 246.56h9.2v9.2h-9.2zM1205.7 235.89h9.2v9.2h-9.2zM1216.37 235.89h9.2v9.2h-9.2zM1227.04 203.88h9.2v9.2h-9.2z"/>
<path fill="#ee1800" d="M149.57 1868.09h9.2v9.2h-9.2zM384.27 1569.39h9.2v9.2h-9.2zM533.62 1366.7h9.2v9.2h-9.2zM693.64 1078.66h9.2v9.2h-9.2zM789.65 1014.65h9.2v9.2h-9.2zM810.99 993.32h9.2v9.2h-9.2zM1099.02 395.91h9.2v9.2h-9.2z"/>
<path fill="#1894da" d="M192.24 1868.09h9.2v9.2h-9.2zM245.58 1772.08h9.2v9.2h-9.2zM394.94 1558.72h9.2v9.2h-9.2zM416.27 1537.38h9.2v9.2h-9.2zM480.28 1526.72h9.2v9.2h-9.2zM501.62 1473.38h9.2v9.2h-9.2zM522.95 1462.71h9.2v9.2h-9.2zM458.94 1441.37h9.2v9.2h-9.2zM544.29 1441.37h9.2v9.2h-9.2zM501.62 1388.03h9.2v9.2h-9.2zM586.96 1366.7h9.2v9.2h-9.2zM565.62 1292.02h9.2v9.2h-9.2zM586.96 1281.35h9.2v9.2h-9.2zM650.97 1260.02h9.2v9.2h-9.2zM586.96 1249.35h9.2v9.2h-9.2zM693.64 1206.68h9.2v9.2h-9.2zM629.63 1196.01h9.2v9.2h-9.2zM672.3 1196.01h9.2v9.2h-9.2zM629.63 1185.34h9.2v9.2h-9.2zM693.64 1174.67h9.2v9.2h-9.2zM693.64 1153.34h9.2v9.2h-9.2zM714.98 1153.34h9.2v9.2h-9.2zM736.31 1142.67h9.2v9.2h-9.2zM757.65 1100h9.2v9.2h-9.2zM736.31 1089.33h9.2v9.2h-9.2zM736.31 1067.99h9.2v9.2h-9.2zM757.65 1067.99h9.2v9.2h-9.2zM778.98 1067.99h9.2v9.2h-9.2zM757.65 961.31h9.2v9.2h-9.2zM821.66 918.64h9.2v9.2h-9.2zM842.99 918.64h9.2v9.2h-9.2zM885.66 811.96h9.2v9.2h-9.2zM907 811.96h9.2v9.2h-9.2zM832.32 801.29h9.2v9.2h-9.2zM864.33 747.95h9.2v9.2h-9.2zM864.33 737.28h9.2v9.2h-9.2zM907 694.61h9.2v9.2h-9.2zM928.34 651.94h9.2v9.2h-9.2zM971.01 566.6h9.2v9.2h-9.2zM981.68 534.59h9.2v9.2h-9.2zM971.01 523.92h9.2v9.2h-9.2zM1013.68 491.92h9.2v9.2h-9.2zM1035.02 491.92h9.2v9.2h-9.2zM1035.02 470.58h9.2v9.2h-9.2zM1035.02 459.92h9.2v9.2h-9.2zM1120.36 449.25h9.2v9.2h-9.2zM1035.02 438.58h9.2v9.2h-9.2zM1120.36 438.58h9.2v9.2h-9.2zM1120.36 427.91h9.2v9.2h-9.2zM1056.35 417.24h9.2v9.2h-9.2zM1077.69 374.57h9.2v9.2h-9.2zM1067.02 353.24h9.2v9.2h-9.2zM1099.02 342.57h9.2v9.2h-9.2zM1099.02 331.9h9.2v9.2h-9.2zM1120.36 299.9h9.2v9.2h-9.2z"/>
<path fill="#ef9000" d="M170.91 1846.76h9.2v9.2h-9.2zM554.96 1388.03h9.2v9.2h-9.2zM821.66 907.97h9.2v9.2h-9.2zM1067.02 449.25h9.2v9.2h-9.2zM1109.69 374.57h9.2v9.2h-9.2zM1120.36 353.24h9.2v9.2h-9.2zM1131.03 342.57h9.2v9.2h-9.2zM1131.03 331.9h9.2v9.2h-9.2zM1131.03 289.23h9.2v9.2h-9.2z"/>
<path fill="#2a58f0" d="M202.91 1846.76h9.2v9.2h-9.2zM213.58 1793.42h9.2v9.2h-9.2zM213.58 1782.75h9.2v9.2h-9.2zM266.92 1772.08h9.2v9.2h-9.2zM266.92 1718.74h9.2v9.2h-9.2zM288.26 1676.07h9.2v9.2h-9.2zM309.59 1644.06h9.2v9.2h-9.2zM384.27 1644.06h9.2v9.2h-9.2zM320.26 1622.73h9.2v9.2h-9.2zM341.6 1612.06h9.2v9.2h-9.2zM426.94 1612.06h9.2v9.2h-9.2zM341.6 1601.39h9.2v9.2h-9.2zM362.93 1590.72h9.2v9.2h-9.2zM448.28 1590.72h9.2v9.2h-9.2zM448.28 1580.06h9.2v9.2h-9.2zM469.61 1558.72h9.2v9.2h-9.2zM384.27 1548.05h9.2v9.2h-9.2zM490.95 1537.38h9.2v9.2h-9.2zM405.6 1516.05h9.2v9.2h-9.2zM501.62 1516.05h9.2v9.2h-9.2zM416.27 1505.38h9.2v9.2h-9.2zM512.28 1505.38h9.2v9.2h-9.2zM416.27 1494.71h9.2v9.2h-9.2zM522.95 1494.71h9.2v9.2h-9.2zM533.62 1484.04h9.2v9.2h-9.2zM522.95 1473.38h9.2v9.2h-9.2zM426.94 1462.71h9.2v9.2h-9.2zM437.61 1452.04h9.2v9.2h-9.2zM544.29 1452.04h9.2v9.2h-9.2zM448.28 1430.7h9.2v9.2h-9.2zM565.62 1430.7h9.2v9.2h-9.2zM458.94 1420.04h9.2v9.2h-9.2zM576.29 1420.04h9.2v9.2h-9.2zM597.63 1409.37h9.2v9.2h-9.2zM469.61 1398.7h9.2v9.2h-9.2zM608.3 1398.7h9.2v9.2h-9.2zM469.61 1388.03h9.2v9.2h-9.2zM608.3 1388.03h9.2v9.2h-9.2zM618.96 1377.36h9.2v9.2h-9.2zM490.95 1366.7h9.2v9.2h-9.2zM629.63 1366.7h9.2v9.2h-9.2zM640.3 1356.03h9.2v9.2h-9.2zM640.3 1345.36h9.2v9.2h-9.2zM512.28 1334.69h9.2v9.2h-9.2zM640.3 1334.69h9.2v9.2h-9.2zM640.3 1324.02h9.2v9.2h-9.2zM533.62 1313.36h9.2v9.2h-9.2zM661.64 1313.36h9.2v9.2h-9.2zM565.62 1302.69h9.2v9.2h-9.2zM661.64 1302.69h9.2v9.2h-9.2zM661.64 1292.02h9.2v9.2h-9.2zM661.64 1281.35h9.2v9.2h-9.2zM682.97 1270.68h9.2v9.2h-9.2zM554.96 1260.02h9.2v9.2h-9.2zM672.3 1260.02h9.2v9.2h-9.2zM704.31 1249.35h9.2v9.2h-9.2zM576.29 1238.68h9.2v9.2h-9.2zM704.31 1238.68h9.2v9.2h-9.2zM576.29 1228.01h9.2v9.2h-9.2zM714.98 1228.01h9.2v9.2h-9.2zM714.98 1217.34h9.2v9.2h-9.2zM725.64 1206.68h9.2v9.2h-9.2zM597.63 1196.01h9.2v9.2h-9.2zM725.64 1196.01h9.2v9.2h-9.2zM746.98 1185.34h9.2v9.2h-9.2zM746.98 1174.67h9.2v9.2h-9.2zM618.96 1164h9.2v9.2h-9.2zM757.65 1164h9.2v9.2h-9.2zM757.65 1153.34h9.2v9.2h-9.2zM768.32 1142.67h9.2v9.2h-9.2zM778.98 1132h9.2v9.2h-9.2zM789.65 1121.33h9.2v9.2h-9.2zM768.32 1110.66h9.2v9.2h-9.2zM800.32 1100h9.2v9.2h-9.2zM778.98 1089.33h9.2v9.2h-9.2zM810.99 1078.66h9.2v9.2h-9.2zM640.3 1067.99h9.2v9.2h-9.2zM800.32 1067.99h9.2v9.2h-9.2zM640.3 1057.32h9.2v9.2h-9.2zM832.32 1057.32h9.2v9.2h-9.2zM661.64 1046.66h9.2v9.2h-9.2zM832.32 1046.66h9.2v9.2h-9.2zM661.64 1035.99h9.2v9.2h-9.2zM682.97 1025.32h9.2v9.2h-9.2zM832.32 1025.32h9.2v9.2h-9.2zM682.97 1014.65h9.2v9.2h-9.2zM853.66 1014.65h9.2v9.2h-9.2zM704.31 1003.98h9.2v9.2h-9.2zM853.66 1003.98h9.2v9.2h-9.2zM704.31 993.32h9.2v9.2h-9.2zM875 993.32h9.2v9.2h-9.2zM725.64 982.65h9.2v9.2h-9.2zM875 982.65h9.2v9.2h-9.2zM725.64 971.98h9.2v9.2h-9.2zM875 971.98h9.2v9.2h-9.2zM875 961.31h9.2v9.2h-9.2zM885.66 950.64h9.2v9.2h-9.2zM746.98 939.98h9.2v9.2h-9.2zM896.33 939.98h9.2v9.2h-9.2zM746.98 929.31h9.2v9.2h-9.2zM896.33 929.31h9.2v9.2h-9.2zM757.65 918.64h9.2v9.2h-9.2zM896.33 918.64h9.2v9.2h-9.2zM917.67 907.97h9.2v9.2h-9.2zM907 897.3h9.2v9.2h-9.2zM917.67 886.64h9.2v9.2h-9.2zM789.65 875.97h9.2v9.2h-9.2zM928.34 875.97h9.2v9.2h-9.2zM789.65 865.3h9.2v9.2h-9.2zM939 865.3h9.2v9.2h-9.2zM800.32 854.63h9.2v9.2h-9.2zM939 854.63h9.2v9.2h-9.2zM800.32 843.96h9.2v9.2h-9.2zM939 843.96h9.2v9.2h-9.2zM810.99 833.3h9.2v9.2h-9.2zM949.67 833.3h9.2v9.2h-9.2zM960.34 822.63h9.2v9.2h-9.2zM832.32 811.96h9.2v9.2h-9.2zM971.01 811.96h9.2v9.2h-9.2zM981.68 801.29h9.2v9.2h-9.2zM981.68 790.62h9.2v9.2h-9.2zM842.99 779.96h9.2v9.2h-9.2zM992.34 769.29h9.2v9.2h-9.2zM992.34 758.62h9.2v9.2h-9.2zM992.34 747.95h9.2v9.2h-9.2zM875 726.62h9.2v9.2h-9.2zM1003.01 726.62h9.2v9.2h-9.2zM1003.01 715.95h9.2v9.2h-9.2zM896.33 705.28h9.2v9.2h-9.2zM1013.68 705.28h9.2v9.2h-9.2zM1024.35 683.94h9.2v9.2h-9.2zM1024.35 673.28h9.2v9.2h-9.2zM917.67 662.61h9.2v9.2h-9.2zM1035.02 662.61h9.2v9.2h-9.2zM907 651.94h9.2v9.2h-9.2zM1035.02 651.94h9.2v9.2h-9.2zM928.34 641.27h9.2v9.2h-9.2zM1045.68 630.6h9.2v9.2h-9.2zM1045.68 619.94h9.2v9.2h-9.2zM1045.68 609.27h9.2v9.2h-9.2zM939 598.6h9.2v9.2h-9.2zM992.34 513.26h9.2v9.2h-9.2zM1035.02 513.26h9.2v9.2h-9.2zM1045.68 513.26h9.2v9.2h-9.2zM1056.35 502.59h9.2v9.2h-9.2zM1109.69 491.92h9.2v9.2h-9.2zM1152.36 417.24h9.2v9.2h-9.2zM1035.02 406.58h9.2v9.2h-9.2zM1152.36 406.58h9.2v9.2h-9.2zM1045.68 395.91h9.2v9.2h-9.2zM1045.68 385.24h9.2v9.2h-9.2zM1163.03 385.24h9.2v9.2h-9.2zM1173.7 363.9h9.2v9.2h-9.2zM1173.7 353.24h9.2v9.2h-9.2zM1184.37 342.57h9.2v9.2h-9.2zM1205.7 321.23h9.2v9.2h-9.2zM1205.7 299.9h9.2v9.2h-9.2z"/>
<path fill="#3046f8" d="M213.58 1846.76h9.2v9.2h-9.2zM213.58 1836.09h9.2v9.2h-9.2zM224.25 1772.08h9.2v9.2h-9.2zM245.58 1750.74h9.2v9.2h-9.2zM320.26 1729.41h9.2v9.2h-9.2zM266.92 1697.4h9.2v9.2h-9.2zM352.26 1686.74h9.2v9.2h-9.2zM373.6 1665.4h9.2v9.2h-9.2zM288.26 1654.73h9.2v9.2h-9.2zM373.6 1558.72h9.2v9.2h-9.2zM394.94 1537.38h9.2v9.2h-9.2zM533.62 1473.38h9.2v9.2h-9.2zM437.61 1441.37h9.2v9.2h-9.2zM544.29 1302.69h9.2v9.2h-9.2zM544.29 1292.02h9.2v9.2h-9.2zM672.3 1281.35h9.2v9.2h-9.2zM682.97 1281.35h9.2v9.2h-9.2zM682.97 1260.02h9.2v9.2h-9.2zM714.98 1249.35h9.2v9.2h-9.2zM597.63 1217.34h9.2v9.2h-9.2zM608.3 1217.34h9.2v9.2h-9.2zM586.96 1206.68h9.2v9.2h-9.2zM618.96 1174.67h9.2v9.2h-9.2zM629.63 1174.67h9.2v9.2h-9.2zM618.96 1153.34h9.2v9.2h-9.2zM629.63 1153.34h9.2v9.2h-9.2zM629.63 1110.66h9.2v9.2h-9.2zM778.98 1110.66h9.2v9.2h-9.2zM789.65 1110.66h9.2v9.2h-9.2zM629.63 1100h9.2v9.2h-9.2zM789.65 1089.33h9.2v9.2h-9.2zM810.99 1067.99h9.2v9.2h-9.2zM736.31 961.31h9.2v9.2h-9.2zM778.98 886.64h9.2v9.2h-9.2zM800.32 833.3h9.2v9.2h-9.2zM821.66 811.96h9.2v9.2h-9.2zM992.34 779.96h9.2v9.2h-9.2zM864.33 726.62h9.2v9.2h-9.2zM885.66 705.28h9.2v9.2h-9.2zM907 662.61h9.2v9.2h-9.2zM907 641.27h9.2v9.2h-9.2zM917.67 641.27h9.2v9.2h-9.2zM928.34 598.6h9.2v9.2h-9.2zM1120.36 491.92h9.2v9.2h-9.2zM1141.7 438.58h9.2v9.2h-9.2zM1024.35 406.58h9.2v9.2h-9.2zM1035.02 395.91h9.2v9.2h-9.2zM1163.03 395.91h9.2v9.2h-9.2zM1035.02 385.24h9.2v9.2h-9.2zM1045.68 374.57h9.2v9.2h-9.2zM1184.37 363.9h9.2v9.2h-9.2zM1184.37 353.24h9.2v9.2h-9.2zM1205.7 310.56h9.2v9.2h-9.2zM1195.04 289.23h9.2v9.2h-9.2z"/>
<path fill="#d2d2ff" d="M277.59 1825.42h9.2v9.2h-9.2zM149.57 1814.75h9.2v9.2h-9.2zM149.57 1804.08h9.2v9.2h-9.2zM181.58 1750.74h9.2v9.2h-9.2zM192.24 1740.08h9.2v9.2h-9.2zM330.93 1740.08h9.2v9.2h-9.2zM192.24 1729.41h9.2v9.2h-9.2zM202.91 1729.41h9.2v9.2h-9.2zM352.26 1729.41h9.2v9.2h-9.2zM373.6 1729.41h9.2v9.2h-9.2zM192.24 1718.74h9.2v9.2h-9.2zM202.91 1697.4h9.2v9.2h-9.2zM213.58 1686.74h9.2v9.2h-9.2zM213.58 1676.07h9.2v9.2h-9.2zM394.94 1676.07h9.2v9.2h-9.2zM416.27 1676.07h9.2v9.2h-9.2zM224.25 1665.4h9.2v9.2h-9.2zM416.27 1665.4h9.2v9.2h-9.2zM224.25 1654.73h9.2v9.2h-9.2zM234.92 1654.73h9.2v9.2h-9.2zM234.92 1644.06h9.2v9.2h-9.2zM234.92 1633.4h9.2v9.2h-9.2zM245.58 1633.4h9.2v9.2h-9.2zM448.28 1633.4h9.2v9.2h-9.2zM245.58 1622.73h9.2v9.2h-9.2zM256.25 1622.73h9.2v9.2h-9.2zM245.58 1612.06h9.2v9.2h-9.2zM256.25 1612.06h9.2v9.2h-9.2zM458.94 1612.06h9.2v9.2h-9.2zM469.61 1612.06h9.2v9.2h-9.2zM266.92 1601.39h9.2v9.2h-9.2zM277.59 1590.72h9.2v9.2h-9.2zM288.26 1590.72h9.2v9.2h-9.2zM277.59 1580.06h9.2v9.2h-9.2zM288.26 1580.06h9.2v9.2h-9.2zM480.28 1580.06h9.2v9.2h-9.2zM288.26 1569.39h9.2v9.2h-9.2zM298.92 1569.39h9.2v9.2h-9.2zM480.28 1569.39h9.2v9.2h-9.2zM298.92 1558.72h9.2v9.2h-9.2zM501.62 1558.72h9.2v9.2h-9.2zM309.59 1548.05h9.2v9.2h-9.2zM512.28 1548.05h9.2v9.2h-9.2zM309.59 1537.38h9.2v9.2h-9.2zM522.95 1537.38h9.2v9.2h-9.2zM320.26 1526.72h9.2v9.2h-9.2zM330.93 1526.72h9.2v9.2h-9.2zM533.62 1526.72h9.2v9.2h-9.2zM330.93 1516.05h9.2v9.2h-9.2zM330.93 1505.38h9.2v9.2h-9.2zM341.6 1505.38h9.2v9.2h-9.2zM544.29 1505.38h9.2v9.2h-9.2zM341.6 1494.71h9.2v9.2h-9.2zM352.26 1484.04h9.2v9.2h-9.2zM352.26 1473.38h9.2v9.2h-9.2zM576.29 1473.38h9.2v9.2h-9.2zM362.93 1462.71h9.2v9.2h-9.2zM586.96 1462.71h9.2v9.2h-9.2zM373.6 1452.04h9.2v9.2h-9.2zM597.63 1452.04h9.2v9.2h-9.2zM373.6 1441.37h9.2v9.2h-9.2zM384.27 1430.7h9.2v9.2h-9.2zM384.27 1420.04h9.2v9.2h-9.2zM394.94 1420.04h9.2v9.2h-9.2zM394.94 1409.37h9.2v9.2h-9.2zM405.6 1388.03h9.2v9.2h-9.2zM416.27 1377.36h9.2v9.2h-9.2zM650.97 1377.36h9.2v9.2h-9.2zM416.27 1366.7h9.2v9.2h-9.2zM426.94 1366.7h9.2v9.2h-9.2zM661.64 1366.7h9.2v9.2h-9.2zM426.94 1356.03h9.2v9.2h-9.2zM448.28 1356.03h9.2v9.2h-9.2zM426.94 1345.36h9.2v9.2h-9.2zM437.61 1345.36h9.2v9.2h-9.2zM458.94 1345.36h9.2v9.2h-9.2zM437.61 1334.69h9.2v9.2h-9.2zM448.28 1334.69h9.2v9.2h-9.2zM458.94 1334.69h9.2v9.2h-9.2zM448.28 1324.02h9.2v9.2h-9.2zM458.94 1324.02h9.2v9.2h-9.2zM448.28 1313.36h9.2v9.2h-9.2zM458.94 1313.36h9.2v9.2h-9.2zM469.61 1292.02h9.2v9.2h-9.2zM480.28 1292.02h9.2v9.2h-9.2zM469.61 1281.35h9.2v9.2h-9.2zM480.28 1281.35h9.2v9.2h-9.2zM480.28 1270.68h9.2v9.2h-9.2zM480.28 1260.02h9.2v9.2h-9.2zM490.95 1238.68h9.2v9.2h-9.2zM501.62 1228.01h9.2v9.2h-9.2zM746.98 1228.01h9.2v9.2h-9.2zM512.28 1206.68h9.2v9.2h-9.2zM512.28 1196.01h9.2v9.2h-9.2zM522.95 1185.34h9.2v9.2h-9.2zM533.62 1174.67h9.2v9.2h-9.2zM533.62 1164h9.2v9.2h-9.2zM789.65 1164h9.2v9.2h-9.2zM544.29 1153.34h9.2v9.2h-9.2zM800.32 1153.34h9.2v9.2h-9.2zM544.29 1142.67h9.2v9.2h-9.2zM554.96 1132h9.2v9.2h-9.2zM576.29 1132h9.2v9.2h-9.2zM565.62 1121.33h9.2v9.2h-9.2zM576.29 1121.33h9.2v9.2h-9.2zM565.62 1110.66h9.2v9.2h-9.2zM576.29 1110.66h9.2v9.2h-9.2zM586.96 1110.66h9.2v9.2h-9.2zM576.29 1100h9.2v9.2h-9.2zM586.96 1100h9.2v9.2h-9.2zM576.29 1089.33h9.2v9.2h-9.2zM586.96 1089.33h9.2v9.2h-9.2zM597.63 1089.33h9.2v9.2h-9.2zM576.29 1078.66h9.2v9.2h-9.2zM586.96 1078.66h9.2v9.2h-9.2zM597.63 1078.66h9.2v9.2h-9.2zM853.66 1078.66h9.2v9.2h-9.2zM586.96 1067.99h9.2v9.2h-9.2zM875 1067.99h9.2v9.2h-9.2zM597.63 1057.32h9.2v9.2h-9.2zM661.64 1003.98h9.2v9.2h-9.2zM640.3 993.32h9.2v9.2h-9.2zM661.64 993.32h9.2v9.2h-9.2zM650.97 982.65h9.2v9.2h-9.2zM661.64 982.65h9.2v9.2h-9.2zM661.64 961.31h9.2v9.2h-9.2zM672.3 961.31h9.2v9.2h-9.2zM672.3 950.64h9.2v9.2h-9.2zM682.97 929.31h9.2v9.2h-9.2zM714.98 929.31h9.2v9.2h-9.2zM704.31 918.64h9.2v9.2h-9.2zM714.98 918.64h9.2v9.2h-9.2zM725.64 918.64h9.2v9.2h-9.2zM704.31 907.97h9.2v9.2h-9.2zM714.98 907.97h9.2v9.2h-9.2zM725.64 907.97h9.2v9.2h-9.2zM736.31 907.97h9.2v9.2h-9.2zM725.64 897.3h9.2v9.2h-9.2zM736.31 897.3h9.2v9.2h-9.2zM746.98 897.3h9.2v9.2h-9.2zM746.98 886.64h9.2v9.2h-9.2zM842.99 769.29h9.2v9.2h-9.2zM875 705.28h9.2v9.2h-9.2zM885.66 694.61h9.2v9.2h-9.2zM896.33 683.94h9.2v9.2h-9.2zM885.66 673.28h9.2v9.2h-9.2zM896.33 662.61h9.2v9.2h-9.2zM896.33 651.94h9.2v9.2h-9.2zM928.34 619.94h9.2v9.2h-9.2zM928.34 609.27h9.2v9.2h-9.2zM917.67 598.6h9.2v9.2h-9.2zM917.67 587.93h9.2v9.2h-9.2zM928.34 587.93h9.2v9.2h-9.2zM939 577.26h9.2v9.2h-9.2zM949.67 577.26h9.2v9.2h-9.2zM949.67 566.6h9.2v9.2h-9.2zM949.67 555.93h9.2v9.2h-9.2zM949.67 545.26h9.2v9.2h-9.2zM960.34 545.26h9.2v9.2h-9.2zM971.01 545.26h9.2v9.2h-9.2zM949.67 534.59h9.2v9.2h-9.2zM960.34 534.59h9.2v9.2h-9.2zM971.01 534.59h9.2v9.2h-9.2zM960.34 523.92h9.2v9.2h-9.2zM960.34 513.26h9.2v9.2h-9.2zM971.01 513.26h9.2v9.2h-9.2zM960.34 502.59h9.2v9.2h-9.2zM971.01 502.59h9.2v9.2h-9.2zM981.68 502.59h9.2v9.2h-9.2zM960.34 491.92h9.2v9.2h-9.2zM971.01 491.92h9.2v9.2h-9.2zM981.68 491.92h9.2v9.2h-9.2zM1003.01 491.92h9.2v9.2h-9.2zM960.34 481.25h9.2v9.2h-9.2zM971.01 481.25h9.2v9.2h-9.2zM981.68 481.25h9.2v9.2h-9.2zM992.34 481.25h9.2v9.2h-9.2zM1003.01 481.25h9.2v9.2h-9.2zM981.68 470.58h9.2v9.2h-9.2zM992.34 470.58h9.2v9.2h-9.2zM981.68 459.92h9.2v9.2h-9.2zM992.34 459.92h9.2v9.2h-9.2zM992.34 449.25h9.2v9.2h-9.2zM1003.01 449.25h9.2v9.2h-9.2zM992.34 438.58h9.2v9.2h-9.2zM1003.01 438.58h9.2v9.2h-9.2zM1013.68 438.58h9.2v9.2h-9.2zM992.34 427.91h9.2v9.2h-9.2zM1003.01 427.91h9.2v9.2h-9.2zM1013.68 427.91h9.2v9.2h-9.2zM1003.01 417.24h9.2v9.2h-9.2zM1013.68 417.24h9.2v9.2h-9.2zM1003.01 406.58h9.2v9.2h-9.2zM1013.68 406.58h9.2v9.2h-9.2zM1013.68 395.91h9.2v9.2h-9.2zM1024.35 395.91h9.2v9.2h-9.2zM1024.35 385.24h9.2v9.2h-9.2zM1035.02 374.57h9.2v9.2h-9.2zM1195.04 374.57h9.2v9.2h-9.2zM1195.04 353.24h9.2v9.2h-9.2zM1280.38 257.22h9.2v9.2h-9.2z"/>
<path fill="#a0f010" d="M224.25 1814.75h9.2v9.2h-9.2zM384.27 1622.73h9.2v9.2h-9.2zM394.94 1580.06h9.2v9.2h-9.2zM586.96 1334.69h9.2v9.2h-9.2zM650.97 1142.67h9.2v9.2h-9.2zM693.64 1089.33h9.2v9.2h-9.2zM757.65 1014.65h9.2v9.2h-9.2zM778.98 961.31h9.2v9.2h-9.2zM778.98 950.64h9.2v9.2h-9.2zM875 865.3h9.2v9.2h-9.2zM842.99 843.96h9.2v9.2h-9.2zM864.33 843.96h9.2v9.2h-9.2zM864.33 833.3h9.2v9.2h-9.2zM885.66 801.29h9.2v9.2h-9.2zM917.67 673.28h9.2v9.2h-9.2zM971.01 619.94h9.2v9.2h-9.2zM1003.01 609.27h9.2v9.2h-9.2zM1067.02 459.92h9.2v9.2h-9.2zM1045.68 438.58h9.2v9.2h-9.2zM1099.02 417.24h9.2v9.2h-9.2zM1109.69 417.24h9.2v9.2h-9.2zM1141.7 321.23h9.2v9.2h-9.2zM1163.03 299.9h9.2v9.2h-9.2zM1152.36 289.23h9.2v9.2h-9.2z"/>
<path fill="#3333ff" d="M202.91 1793.42h9.2v9.2h-9.2zM202.91 1782.75h9.2v9.2h-9.2zM277.59 1772.08h9.2v9.2h-9.2zM256.25 1718.74h9.2v9.2h-9.2zM266.92 1708.07h9.2v9.2h-9.2zM277.59 1686.74h9.2v9.2h-9.2zM288.26 1665.4h9.2v9.2h-9.2zM298.92 1644.06h9.2v9.2h-9.2zM394.94 1644.06h9.2v9.2h-9.2zM309.59 1622.73h9.2v9.2h-9.2zM330.93 1612.06h9.2v9.2h-9.2zM330.93 1601.39h9.2v9.2h-9.2zM352.26 1590.72h9.2v9.2h-9.2zM373.6 1548.05h9.2v9.2h-9.2zM394.94 1516.05h9.2v9.2h-9.2zM405.6 1505.38h9.2v9.2h-9.2zM522.95 1505.38h9.2v9.2h-9.2zM405.6 1494.71h9.2v9.2h-9.2zM544.29 1484.04h9.2v9.2h-9.2zM416.27 1473.38h9.2v9.2h-9.2zM544.29 1473.38h9.2v9.2h-9.2zM416.27 1462.71h9.2v9.2h-9.2zM554.96 1462.71h9.2v9.2h-9.2zM426.94 1452.04h9.2v9.2h-9.2zM554.96 1452.04h9.2v9.2h-9.2zM576.29 1441.37h9.2v9.2h-9.2zM437.61 1430.7h9.2v9.2h-9.2zM576.29 1430.7h9.2v9.2h-9.2zM448.28 1420.04h9.2v9.2h-9.2zM586.96 1420.04h9.2v9.2h-9.2zM448.28 1409.37h9.2v9.2h-9.2zM608.3 1409.37h9.2v9.2h-9.2zM458.94 1398.7h9.2v9.2h-9.2zM618.96 1398.7h9.2v9.2h-9.2zM458.94 1388.03h9.2v9.2h-9.2zM618.96 1388.03h9.2v9.2h-9.2zM469.61 1377.36h9.2v9.2h-9.2zM629.63 1377.36h9.2v9.2h-9.2zM480.28 1366.7h9.2v9.2h-9.2zM490.95 1356.03h9.2v9.2h-9.2zM501.62 1345.36h9.2v9.2h-9.2zM650.97 1334.69h9.2v9.2h-9.2zM650.97 1324.02h9.2v9.2h-9.2zM522.95 1313.36h9.2v9.2h-9.2zM672.3 1313.36h9.2v9.2h-9.2zM672.3 1302.69h9.2v9.2h-9.2zM672.3 1292.02h9.2v9.2h-9.2zM544.29 1281.35h9.2v9.2h-9.2zM693.64 1281.35h9.2v9.2h-9.2zM544.29 1270.68h9.2v9.2h-9.2zM693.64 1270.68h9.2v9.2h-9.2zM544.29 1260.02h9.2v9.2h-9.2zM693.64 1260.02h9.2v9.2h-9.2zM554.96 1249.35h9.2v9.2h-9.2zM565.62 1238.68h9.2v9.2h-9.2zM714.98 1238.68h9.2v9.2h-9.2zM565.62 1228.01h9.2v9.2h-9.2zM725.64 1228.01h9.2v9.2h-9.2zM586.96 1217.34h9.2v9.2h-9.2zM725.64 1217.34h9.2v9.2h-9.2zM736.31 1206.68h9.2v9.2h-9.2zM586.96 1196.01h9.2v9.2h-9.2zM736.31 1196.01h9.2v9.2h-9.2zM597.63 1185.34h9.2v9.2h-9.2zM757.65 1185.34h9.2v9.2h-9.2zM608.3 1174.67h9.2v9.2h-9.2zM757.65 1174.67h9.2v9.2h-9.2zM608.3 1164h9.2v9.2h-9.2zM768.32 1164h9.2v9.2h-9.2zM608.3 1153.34h9.2v9.2h-9.2zM768.32 1153.34h9.2v9.2h-9.2zM778.98 1142.67h9.2v9.2h-9.2zM789.65 1132h9.2v9.2h-9.2zM800.32 1121.33h9.2v9.2h-9.2zM800.32 1110.66h9.2v9.2h-9.2zM810.99 1100h9.2v9.2h-9.2zM629.63 1089.33h9.2v9.2h-9.2zM800.32 1089.33h9.2v9.2h-9.2zM629.63 1078.66h9.2v9.2h-9.2zM821.66 1078.66h9.2v9.2h-9.2zM629.63 1067.99h9.2v9.2h-9.2zM821.66 1067.99h9.2v9.2h-9.2zM629.63 1057.32h9.2v9.2h-9.2zM842.99 1057.32h9.2v9.2h-9.2zM650.97 1046.66h9.2v9.2h-9.2zM842.99 1046.66h9.2v9.2h-9.2zM650.97 1035.99h9.2v9.2h-9.2zM832.32 1035.99h9.2v9.2h-9.2zM672.3 1025.32h9.2v9.2h-9.2zM842.99 1025.32h9.2v9.2h-9.2zM672.3 1014.65h9.2v9.2h-9.2zM864.33 1014.65h9.2v9.2h-9.2zM693.64 1003.98h9.2v9.2h-9.2zM864.33 1003.98h9.2v9.2h-9.2zM693.64 993.32h9.2v9.2h-9.2zM885.66 993.32h9.2v9.2h-9.2zM714.98 982.65h9.2v9.2h-9.2zM885.66 982.65h9.2v9.2h-9.2zM714.98 971.98h9.2v9.2h-9.2zM885.66 971.98h9.2v9.2h-9.2zM885.66 961.31h9.2v9.2h-9.2zM725.64 950.64h9.2v9.2h-9.2zM896.33 950.64h9.2v9.2h-9.2zM736.31 939.98h9.2v9.2h-9.2zM907 939.98h9.2v9.2h-9.2zM736.31 929.31h9.2v9.2h-9.2zM907 929.31h9.2v9.2h-9.2zM746.98 918.64h9.2v9.2h-9.2zM907 918.64h9.2v9.2h-9.2zM757.65 907.97h9.2v9.2h-9.2zM928.34 907.97h9.2v9.2h-9.2zM768.32 897.3h9.2v9.2h-9.2zM917.67 897.3h9.2v9.2h-9.2zM928.34 886.64h9.2v9.2h-9.2zM778.98 875.97h9.2v9.2h-9.2zM939 875.97h9.2v9.2h-9.2zM778.98 865.3h9.2v9.2h-9.2zM949.67 865.3h9.2v9.2h-9.2zM789.65 854.63h9.2v9.2h-9.2zM949.67 854.63h9.2v9.2h-9.2zM789.65 843.96h9.2v9.2h-9.2zM949.67 843.96h9.2v9.2h-9.2zM960.34 833.3h9.2v9.2h-9.2zM971.01 822.63h9.2v9.2h-9.2zM1003.01 758.62h9.2v9.2h-9.2zM1003.01 747.95h9.2v9.2h-9.2zM1003.01 737.28h9.2v9.2h-9.2zM1013.68 726.62h9.2v9.2h-9.2zM1013.68 715.95h9.2v9.2h-9.2zM1024.35 694.61h9.2v9.2h-9.2zM1035.02 683.94h9.2v9.2h-9.2zM1035.02 673.28h9.2v9.2h-9.2zM1045.68 641.27h9.2v9.2h-9.2zM1056.35 619.94h9.2v9.2h-9.2zM1056.35 609.27h9.2v9.2h-9.2zM1056.35 598.6h9.2v9.2h-9.2zM1003.01 523.92h9.2v9.2h-9.2zM1003.01 513.26h9.2v9.2h-9.2zM1024.35 513.26h9.2v9.2h-9.2zM1056.35 513.26h9.2v9.2h-9.2zM1067.02 502.59h9.2v9.2h-9.2zM1173.7 385.24h9.2v9.2h-9.2zM1173.7 374.57h9.2v9.2h-9.2zM1195.04 342.57h9.2v9.2h-9.2zM1195.04 331.9h9.2v9.2h-9.2zM1216.37 321.23h9.2v9.2h-9.2zM1216.37 299.9h9.2v9.2h-9.2z"/>
<path fill="#12dc88" d="M224.25 1793.42h9.2v9.2h-9.2zM234.92 1761.41h9.2v9.2h-9.2zM309.59 1686.74h9.2v9.2h-9.2zM309.59 1676.07h9.2v9.2h-9.2zM362.93 1676.07h9.2v9.2h-9.2zM330.93 1654.73h9.2v9.2h-9.2zM384.27 1654.73h9.2v9.2h-9.2zM330.93 1644.06h9.2v9.2h-9.2zM394.94 1633.4h9.2v9.2h-9.2zM405.6 1622.73h9.2v9.2h-9.2zM426.94 1590.72h9.2v9.2h-9.2zM416.27 1558.72h9.2v9.2h-9.2zM437.61 1558.72h9.2v9.2h-9.2zM437.61 1548.05h9.2v9.2h-9.2zM448.28 1537.38h9.2v9.2h-9.2zM405.6 1526.72h9.2v9.2h-9.2zM416.27 1526.72h9.2v9.2h-9.2zM458.94 1526.72h9.2v9.2h-9.2zM469.61 1526.72h9.2v9.2h-9.2zM458.94 1516.05h9.2v9.2h-9.2zM469.61 1516.05h9.2v9.2h-9.2zM490.95 1505.38h9.2v9.2h-9.2zM437.61 1494.71h9.2v9.2h-9.2zM480.28 1494.71h9.2v9.2h-9.2zM426.94 1484.04h9.2v9.2h-9.2zM480.28 1484.04h9.2v9.2h-9.2zM458.94 1473.38h9.2v9.2h-9.2zM490.95 1473.38h9.2v9.2h-9.2zM458.94 1462.71h9.2v9.2h-9.2zM448.28 1452.04h9.2v9.2h-9.2zM512.28 1452.04h9.2v9.2h-9.2zM533.62 1441.37h9.2v9.2h-9.2zM480.28 1430.7h9.2v9.2h-9.2zM522.95 1430.7h9.2v9.2h-9.2zM522.95 1420.04h9.2v9.2h-9.2zM533.62 1409.37h9.2v9.2h-9.2zM544.29 1409.37h9.2v9.2h-9.2zM522.95 1388.03h9.2v9.2h-9.2zM565.62 1377.36h9.2v9.2h-9.2zM512.28 1366.7h9.2v9.2h-9.2zM576.29 1366.7h9.2v9.2h-9.2zM522.95 1356.03h9.2v9.2h-9.2zM597.63 1356.03h9.2v9.2h-9.2zM544.29 1345.36h9.2v9.2h-9.2zM586.96 1345.36h9.2v9.2h-9.2zM533.62 1324.02h9.2v9.2h-9.2zM554.96 1324.02h9.2v9.2h-9.2zM586.96 1292.02h9.2v9.2h-9.2zM629.63 1270.68h9.2v9.2h-9.2zM597.63 1260.02h9.2v9.2h-9.2zM597.63 1228.01h9.2v9.2h-9.2zM618.96 1217.34h9.2v9.2h-9.2zM661.64 1217.34h9.2v9.2h-9.2zM650.97 1206.68h9.2v9.2h-9.2zM682.97 1206.68h9.2v9.2h-9.2zM672.3 1185.34h9.2v9.2h-9.2zM640.3 1174.67h9.2v9.2h-9.2zM650.97 1174.67h9.2v9.2h-9.2zM682.97 1174.67h9.2v9.2h-9.2zM704.31 1164h9.2v9.2h-9.2zM693.64 1142.67h9.2v9.2h-9.2zM661.64 1132h9.2v9.2h-9.2zM725.64 1121.33h9.2v9.2h-9.2zM650.97 1110.66h9.2v9.2h-9.2zM672.3 1110.66h9.2v9.2h-9.2zM725.64 1110.66h9.2v9.2h-9.2zM714.98 1100h9.2v9.2h-9.2zM725.64 1089.33h9.2v9.2h-9.2zM661.64 1078.66h9.2v9.2h-9.2zM672.3 1078.66h9.2v9.2h-9.2zM746.98 1078.66h9.2v9.2h-9.2zM768.32 1078.66h9.2v9.2h-9.2zM682.97 1067.99h9.2v9.2h-9.2zM672.3 1057.32h9.2v9.2h-9.2zM714.98 1046.66h9.2v9.2h-9.2zM736.31 1046.66h9.2v9.2h-9.2zM789.65 1046.66h9.2v9.2h-9.2zM725.64 1025.32h9.2v9.2h-9.2zM736.31 1014.65h9.2v9.2h-9.2zM800.32 1014.65h9.2v9.2h-9.2zM800.32 1003.98h9.2v9.2h-9.2zM800.32 993.32h9.2v9.2h-9.2zM800.32 982.65h9.2v9.2h-9.2zM810.99 982.65h9.2v9.2h-9.2zM757.65 971.98h9.2v9.2h-9.2zM768.32 961.31h9.2v9.2h-9.2zM832.32 950.64h9.2v9.2h-9.2zM768.32 929.31h9.2v9.2h-9.2zM778.98 929.31h9.2v9.2h-9.2zM789.65 918.64h9.2v9.2h-9.2zM842.99 907.97h9.2v9.2h-9.2zM853.66 907.97h9.2v9.2h-9.2zM832.32 897.3h9.2v9.2h-9.2zM864.33 886.64h9.2v9.2h-9.2zM875 886.64h9.2v9.2h-9.2zM821.66 875.97h9.2v9.2h-9.2zM864.33 875.97h9.2v9.2h-9.2zM875 875.97h9.2v9.2h-9.2zM810.99 865.3h9.2v9.2h-9.2zM875 854.63h9.2v9.2h-9.2zM842.99 833.3h9.2v9.2h-9.2zM832.32 822.63h9.2v9.2h-9.2zM885.66 822.63h9.2v9.2h-9.2zM907 801.29h9.2v9.2h-9.2zM917.67 801.29h9.2v9.2h-9.2zM907 790.62h9.2v9.2h-9.2zM917.67 790.62h9.2v9.2h-9.2zM928.34 779.96h9.2v9.2h-9.2zM928.34 769.29h9.2v9.2h-9.2zM928.34 758.62h9.2v9.2h-9.2zM928.34 747.95h9.2v9.2h-9.2zM939 747.95h9.2v9.2h-9.2zM896.33 726.62h9.2v9.2h-9.2zM907 726.62h9.2v9.2h-9.2zM939 726.62h9.2v9.2h-9.2zM907 715.95h9.2v9.2h-9.2zM949.67 715.95h9.2v9.2h-9.2zM949.67 705.28h9.2v9.2h-9.2zM960.34 705.28h9.2v9.2h-9.2zM917.67 683.94h9.2v9.2h-9.2zM928.34 683.94h9.2v9.2h-9.2zM960.34 683.94h9.2v9.2h-9.2zM981.68 673.28h9.2v9.2h-9.2zM939 662.61h9.2v9.2h-9.2zM949.67 662.61h9.2v9.2h-9.2zM971.01 662.61h9.2v9.2h-9.2zM981.68 662.61h9.2v9.2h-9.2zM949.67 651.94h9.2v9.2h-9.2zM971.01 651.94h9.2v9.2h-9.2zM992.34 651.94h9.2v9.2h-9.2zM981.68 641.27h9.2v9.2h-9.2zM992.34 641.27h9.2v9.2h-9.2zM939 630.6h9.2v9.2h-9.2zM939 609.27h9.2v9.2h-9.2zM1024.35 598.6h9.2v9.2h-9.2zM1013.68 587.93h9.2v9.2h-9.2zM981.68 545.26h9.2v9.2h-9.2zM1056.35 470.58h9.2v9.2h-9.2zM1077.69 470.58h9.2v9.2h-9.2zM1067.02 427.91h9.2v9.2h-9.2zM1077.69 427.91h9.2v9.2h-9.2zM1120.36 395.91h9.2v9.2h-9.2zM1099.02 385.24h9.2v9.2h-9.2zM1120.36 385.24h9.2v9.2h-9.2zM1099.02 374.57h9.2v9.2h-9.2zM1120.36 363.9h9.2v9.2h-9.2zM1088.36 353.24h9.2v9.2h-9.2zM1152.36 353.24h9.2v9.2h-9.2zM1120.36 342.57h9.2v9.2h-9.2zM1109.69 321.23h9.2v9.2h-9.2zM1163.03 310.56h9.2v9.2h-9.2zM1173.7 310.56h9.2v9.2h-9.2zM1109.69 299.9h9.2v9.2h-9.2zM1173.7 299.9h9.2v9.2h-9.2zM1173.7 278.56h9.2v9.2h-9.2zM1131.03 267.89h9.2v9.2h-9.2zM1227.04 193.22h9.2v9.2h-9.2zM1227.04 171.88h9.2v9.2h-9.2z"/>
<path fill="#ee3000" d="M245.58 1793.42h9.2v9.2h-9.2zM469.61 1452.04h9.2v9.2h-9.2zM992.34 598.6h9.2v9.2h-9.2zM1109.69 353.24h9.2v9.2h-9.2zM1131.03 310.56h9.2v9.2h-9.2z"/>
<path fill="#f0d800" d="M256.25 1740.08h9.2v9.2h-9.2zM298.92 1708.07h9.2v9.2h-9.2zM800.32 939.98h9.2v9.2h-9.2zM1003.01 598.6h9.2v9.2h-9.2z"/>
<path fill="#ef4800" d="M288.26 1729.41h9.2v9.2h-9.2zM490.95 1452.04h9.2v9.2h-9.2zM565.62 1334.69h9.2v9.2h-9.2zM640.3 1121.33h9.2v9.2h-9.2zM1088.36 427.91h9.2v9.2h-9.2zM1088.36 417.24h9.2v9.2h-9.2zM1099.02 406.58h9.2v9.2h-9.2z"/>
<path fill="#246ae8" d="M277.59 1708.07h9.2v9.2h-9.2zM288.26 1686.74h9.2v9.2h-9.2zM298.92 1665.4h9.2v9.2h-9.2zM426.94 1601.39h9.2v9.2h-9.2zM501.62 1526.72h9.2v9.2h-9.2zM426.94 1473.38h9.2v9.2h-9.2zM544.29 1462.71h9.2v9.2h-9.2zM565.62 1441.37h9.2v9.2h-9.2zM458.94 1409.37h9.2v9.2h-9.2zM480.28 1377.36h9.2v9.2h-9.2zM501.62 1356.03h9.2v9.2h-9.2zM512.28 1345.36h9.2v9.2h-9.2zM554.96 1281.35h9.2v9.2h-9.2zM554.96 1270.68h9.2v9.2h-9.2zM565.62 1249.35h9.2v9.2h-9.2zM608.3 1185.34h9.2v9.2h-9.2zM640.3 1089.33h9.2v9.2h-9.2zM757.65 1089.33h9.2v9.2h-9.2zM640.3 1078.66h9.2v9.2h-9.2zM821.66 1035.99h9.2v9.2h-9.2zM736.31 950.64h9.2v9.2h-9.2zM768.32 907.97h9.2v9.2h-9.2zM778.98 897.3h9.2v9.2h-9.2zM992.34 737.28h9.2v9.2h-9.2zM1013.68 694.61h9.2v9.2h-9.2zM1035.02 641.27h9.2v9.2h-9.2zM1045.68 598.6h9.2v9.2h-9.2zM1035.02 587.93h9.2v9.2h-9.2zM1056.35 374.57h9.2v9.2h-9.2zM1163.03 374.57h9.2v9.2h-9.2zM1184.37 331.9h9.2v9.2h-9.2z"/>
<path fill="#cc0000" d="M309.59 1708.07h9.2v9.2h-9.2z"/>
<path fill="#ef6000" d="M320.26 1708.07h9.2v9.2h-9.2zM405.6 1601.39h9.2v9.2h-9.2zM714.98 1078.66h9.2v9.2h-9.2zM981.68 651.94h9.2v9.2h-9.2zM1067.02 438.58h9.2v9.2h-9.2zM1077.69 438.58h9.2v9.2h-9.2z"/>
<path fill="#f0f000" d="M341.6 1697.4h9.2v9.2h-9.2zM298.92 1676.07h9.2v9.2h-9.2zM405.6 1558.72h9.2v9.2h-9.2zM789.65 1035.99h9.2v9.2h-9.2zM778.98 1003.98h9.2v9.2h-9.2zM768.32 982.65h9.2v9.2h-9.2zM800.32 950.64h9.2v9.2h-9.2zM939 705.28h9.2v9.2h-9.2zM1088.36 438.58h9.2v9.2h-9.2zM1109.69 395.91h9.2v9.2h-9.2z"/>
<path fill="#6c6cff" d="M245.58 1676.07h9.2v9.2h-9.2zM266.92 1676.07h9.2v9.2h-9.2zM245.58 1665.4h9.2v9.2h-9.2zM256.25 1644.06h9.2v9.2h-9.2zM277.59 1612.06h9.2v9.2h-9.2zM298.92 1601.39h9.2v9.2h-9.2zM309.59 1580.06h9.2v9.2h-9.2zM330.93 1537.38h9.2v9.2h-9.2zM394.94 1441.37h9.2v9.2h-9.2zM437.61 1377.36h9.2v9.2h-9.2zM480.28 1334.69h9.2v9.2h-9.2zM896.33 1025.32h9.2v9.2h-9.2zM907 1014.65h9.2v9.2h-9.2zM917.67 1003.98h9.2v9.2h-9.2zM917.67 993.32h9.2v9.2h-9.2zM949.67 961.31h9.2v9.2h-9.2zM939 950.64h9.2v9.2h-9.2zM949.67 939.98h9.2v9.2h-9.2zM949.67 929.31h9.2v9.2h-9.2zM971.01 907.97h9.2v9.2h-9.2zM992.34 854.63h9.2v9.2h-9.2zM1003.01 833.3h9.2v9.2h-9.2zM992.34 822.63h9.2v9.2h-9.2zM1003.01 811.96h9.2v9.2h-9.2zM1003.01 801.29h9.2v9.2h-9.2zM1024.35 769.29h9.2v9.2h-9.2zM1035.02 737.28h9.2v9.2h-9.2zM1035.02 726.62h9.2v9.2h-9.2zM1045.68 715.95h9.2v9.2h-9.2zM1045.68 705.28h9.2v9.2h-9.2zM1056.35 673.28h9.2v9.2h-9.2zM1067.02 662.61h9.2v9.2h-9.2zM1067.02 651.94h9.2v9.2h-9.2zM1077.69 641.27h9.2v9.2h-9.2zM1077.69 630.6h9.2v9.2h-9.2zM1088.36 598.6h9.2v9.2h-9.2zM1067.02 587.93h9.2v9.2h-9.2zM1024.35 577.26h9.2v9.2h-9.2zM1035.02 577.26h9.2v9.2h-9.2zM1013.68 534.59h9.2v9.2h-9.2zM1024.35 534.59h9.2v9.2h-9.2zM1035.02 534.59h9.2v9.2h-9.2zM1045.68 534.59h9.2v9.2h-9.2zM1056.35 534.59h9.2v9.2h-9.2zM1067.02 534.59h9.2v9.2h-9.2zM1024.35 523.92h9.2v9.2h-9.2zM1035.02 523.92h9.2v9.2h-9.2zM1045.68 523.92h9.2v9.2h-9.2zM1056.35 523.92h9.2v9.2h-9.2zM1067.02 523.92h9.2v9.2h-9.2zM1099.02 513.26h9.2v9.2h-9.2zM1184.37 395.91h9.2v9.2h-9.2zM1248.38 289.23h9.2v9.2h-9.2zM1248.38 278.56h9.2v9.2h-9.2zM1259.04 278.56h9.2v9.2h-9.2zM1195.04 267.89h9.2v9.2h-9.2zM1237.71 267.89h9.2v9.2h-9.2zM1259.04 267.89h9.2v9.2h-9.2zM1259.04 257.22h9.2v9.2h-9.2zM1269.71 257.22h9.2v9.2h-9.2zM1173.7 246.56h9.2v9.2h-9.2zM1259.04 246.56h9.2v9.2h-9.2zM1269.71 235.89h9.2v9.2h-9.2zM1173.7 225.22h9.2v9.2h-9.2zM1195.04 225.22h9.2v9.2h-9.2zM1269.71 214.55h9.2v9.2h-9.2zM1280.38 214.55h9.2v9.2h-9.2zM1291.05 214.55h9.2v9.2h-9.2zM1291.05 193.22h9.2v9.2h-9.2zM1269.71 161.21h9.2v9.2h-9.2zM1291.05 150.54h9.2v9.2h-9.2zM1301.72 118.54h9.2v9.2h-9.2zM1344.39 75.87h9.2v9.2h-9.2zM1344.39 65.2h9.2v9.2h-9.2zM1344.39 54.53h9.2v9.2h-9.2zM1355.06 54.53h9.2v9.2h-9.2z"/>
<path fill="#9999ff" d="M256.25 1676.07h9.2v9.2h-9.2zM234.92 1665.4h9.2v9.2h-9.2zM245.58 1644.06h9.2v9.2h-9.2zM266.92 1612.06h9.2v9.2h-9.2zM288.26 1601.39h9.2v9.2h-9.2zM298.92 1580.06h9.2v9.2h-9.2zM320.26 1537.38h9.2v9.2h-9.2zM384.27 1441.37h9.2v9.2h-9.2zM426.94 1377.36h9.2v9.2h-9.2zM661.64 1356.03h9.2v9.2h-9.2zM469.61 1334.69h9.2v9.2h-9.2zM672.3 1334.69h9.2v9.2h-9.2zM693.64 1313.36h9.2v9.2h-9.2zM544.29 1164h9.2v9.2h-9.2zM554.96 1142.67h9.2v9.2h-9.2zM907 1025.32h9.2v9.2h-9.2zM917.67 1025.32h9.2v9.2h-9.2zM917.67 1014.65h9.2v9.2h-9.2zM928.34 1003.98h9.2v9.2h-9.2zM928.34 993.32h9.2v9.2h-9.2zM960.34 961.31h9.2v9.2h-9.2zM949.67 950.64h9.2v9.2h-9.2zM960.34 950.64h9.2v9.2h-9.2zM960.34 939.98h9.2v9.2h-9.2zM960.34 929.31h9.2v9.2h-9.2zM981.68 907.97h9.2v9.2h-9.2zM992.34 843.96h9.2v9.2h-9.2zM1003.01 822.63h9.2v9.2h-9.2zM1013.68 801.29h9.2v9.2h-9.2zM1024.35 790.62h9.2v9.2h-9.2zM1024.35 779.96h9.2v9.2h-9.2zM1045.68 726.62h9.2v9.2h-9.2zM1067.02 673.28h9.2v9.2h-9.2zM1088.36 587.93h9.2v9.2h-9.2zM1056.35 577.26h9.2v9.2h-9.2zM1067.02 577.26h9.2v9.2h-9.2zM1077.69 577.26h9.2v9.2h-9.2zM1088.36 577.26h9.2v9.2h-9.2zM1003.01 545.26h9.2v9.2h-9.2zM1013.68 545.26h9.2v9.2h-9.2zM1024.35 545.26h9.2v9.2h-9.2zM1035.02 545.26h9.2v9.2h-9.2zM1045.68 545.26h9.2v9.2h-9.2zM1056.35 545.26h9.2v9.2h-9.2zM1067.02 545.26h9.2v9.2h-9.2zM1077.69 545.26h9.2v9.2h-9.2zM1088.36 534.59h9.2v9.2h-9.2zM1088.36 523.92h9.2v9.2h-9.2zM1173.7 427.91h9.2v9.2h-9.2zM1173.7 417.24h9.2v9.2h-9.2zM1216.37 342.57h9.2v9.2h-9.2zM1216.37 331.9h9.2v9.2h-9.2zM1280.38 235.89h9.2v9.2h-9.2zM1280.38 225.22h9.2v9.2h-9.2zM1280.38 193.22h9.2v9.2h-9.2zM1312.38 171.88h9.2v9.2h-9.2z"/>
<path fill="#50f020" d="M352.26 1654.73h9.2v9.2h-9.2zM373.6 1622.73h9.2v9.2h-9.2zM394.94 1612.06h9.2v9.2h-9.2zM448.28 1548.05h9.2v9.2h-9.2zM586.96 1324.02h9.2v9.2h-9.2zM618.96 1281.35h9.2v9.2h-9.2zM576.29 1270.68h9.2v9.2h-9.2zM640.3 1153.34h9.2v9.2h-9.2zM757.65 1057.32h9.2v9.2h-9.2zM757.65 1046.66h9.2v9.2h-9.2zM768.32 1046.66h9.2v9.2h-9.2zM725.64 1014.65h9.2v9.2h-9.2zM789.65 1003.98h9.2v9.2h-9.2zM789.65 982.65h9.2v9.2h-9.2zM810.99 939.98h9.2v9.2h-9.2zM842.99 854.63h9.2v9.2h-9.2zM896.33 790.62h9.2v9.2h-9.2zM1003.01 587.93h9.2v9.2h-9.2zM1152.36 331.9h9.2v9.2h-9.2zM1141.7 310.56h9.2v9.2h-9.2zM1163.03 278.56h9.2v9.2h-9.2z"/>
<path fill="#ee0000" d="M373.6 1633.4h9.2v9.2h-9.2zM565.62 1356.03h9.2v9.2h-9.2zM565.62 1345.36h9.2v9.2h-9.2zM597.63 1281.35h9.2v9.2h-9.2zM875 758.62h9.2v9.2h-9.2z"/>
<path fill="#b70000" d="M501.62 1398.7h9.2v9.2h-9.2zM864.33 811.96h9.2v9.2h-9.2zM907 737.28h9.2v9.2h-9.2z"/>
<path fill="#f0c000" d="M544.29 1398.7h9.2v9.2h-9.2zM960.34 715.95h9.2v9.2h-9.2zM1120.36 374.57h9.2v9.2h-9.2zM1152.36 321.23h9.2v9.2h-9.2zM1152.36 299.9h9.2v9.2h-9.2z"/>
<path fill="#e00000" d="M544.29 1388.03h9.2v9.2h-9.2zM1109.69 331.9h9.2v9.2h-9.2z"/>
<path fill="#ef7800" d="M544.29 1366.7h9.2v9.2h-9.2zM1109.69 385.24h9.2v9.2h-9.2z"/>
<path fill="#870000" d="M533.62 1334.69h9.2v9.2h-9.2zM554.96 1313.36h9.2v9.2h-9.2zM640.3 1270.68h9.2v9.2h-9.2zM618.96 1238.68h9.2v9.2h-9.2zM629.63 1228.01h9.2v9.2h-9.2zM618.96 1206.68h9.2v9.2h-9.2zM661.64 1121.33h9.2v9.2h-9.2zM746.98 1035.99h9.2v9.2h-9.2zM768.32 1014.65h9.2v9.2h-9.2zM789.65 993.32h9.2v9.2h-9.2zM746.98 971.98h9.2v9.2h-9.2zM875 843.96h9.2v9.2h-9.2zM917.67 758.62h9.2v9.2h-9.2z"/>
<path fill="#7777ff" d="M682.97 1334.69h9.2v9.2h-9.2zM939 993.32h9.2v9.2h-9.2zM1013.68 790.62h9.2v9.2h-9.2zM1013.68 779.96h9.2v9.2h-9.2zM1077.69 587.93h9.2v9.2h-9.2zM1045.68 577.26h9.2v9.2h-9.2zM1077.69 534.59h9.2v9.2h-9.2zM1077.69 523.92h9.2v9.2h-9.2z"/>
<path fill="#e70000" d="M672.3 1121.33h9.2v9.2h-9.2zM981.68 619.94h9.2v9.2h-9.2zM1088.36 395.91h9.2v9.2h-9.2zM1131.03 321.23h9.2v9.2h-9.2z"/>
<path fill="#b00000" d="M714.98 1067.99h9.2v9.2h-9.2zM768.32 1025.32h9.2v9.2h-9.2z"/>
<path fill="#d90000" d="M768.32 1035.99h9.2v9.2h-9.2z"/>
<path fill="#a90000" d="M939 737.28h9.2v9.2h-9.2z"/>
<path fill="#ddddff" d="M1003.01 566.6h9.2v9.2h-9.2zM1013.68 566.6h9.2v9.2h-9.2zM1024.35 566.6h9.2v9.2h-9.2zM1035.02 566.6h9.2v9.2h-9.2zM1045.68 566.6h9.2v9.2h-9.2zM1056.35 566.6h9.2v9.2h-9.2zM1067.02 566.6h9.2v9.2h-9.2zM1077.69 566.6h9.2v9.2h-9.2z"/>
<path fill="#bbbbff" d="M1003.01 555.93h9.2v9.2h-9.2zM1013.68 555.93h9.2v9.2h-9.2zM1024.35 555.93h9.2v9.2h-9.2zM1035.02 555.93h9.2v9.2h-9.2zM1045.68 555.93h9.2v9.2h-9.2zM1056.35 555.93h9.2v9.2h-9.2zM1067.02 555.93h9.2v9.2h-9.2zM1077.69 555.93h9.2v9.2h-9.2zM1088.36 555.93h9.2v9.2h-9.2zM1088.36 545.26h9.2v9.2h-9.2z"/>
<path fill="#efa800" d="M1045.68 459.92h9.2v9.2h-9.2zM1141.7 331.9h9.2v9.2h-9.2z"/>
<path fill="#be0000" d="M1067.02 417.24h9.2v9.2h-9.2z"/>
<path fill="#d20000" d="M1088.36 406.58h9.2v9.2h-9.2z"/>
<path fill="#c50000" d="M1088.36 374.57h9.2v9.2h-9.2z"/>
<rect x="105.2" y="41.6" width="1261.8" height="1901.7" fill="none" stroke="#000" stroke-width="2.9"/>
<text class="s" transform="translate(325.54 1994.7) scale(0.968 1.045)" text-anchor="middle">20</text>
<text class="s" transform="translate(538.88 1994.7) scale(0.968 1.045)" text-anchor="middle">40</text>
<text class="s" transform="translate(752.22 1994.7) scale(0.968 1.045)" text-anchor="middle">60</text>
<text class="s" transform="translate(965.56 1994.7) scale(0.968 1.045)" text-anchor="middle">80</text>
<text class="s" transform="translate(1178.9 1994.7) scale(0.968 1.045)" text-anchor="middle">100</text>
<text class="s" transform="translate(92.6 1738.76) scale(0.968 1.045)" text-anchor="end">20</text>
<text class="s" transform="translate(92.6 1525.42) scale(0.968 1.045)" text-anchor="end">40</text>
<text class="s" transform="translate(92.6 1312.08) scale(0.968 1.045)" text-anchor="end">60</text>
<text class="s" transform="translate(92.6 1098.74) scale(0.968 1.045)" text-anchor="end">80</text>
<text class="s" transform="translate(92.6 885.4) scale(0.968 1.045)" text-anchor="end">100</text>
<text class="s" transform="translate(92.6 672.06) scale(0.968 1.045)" text-anchor="end">120</text>
<text class="s" transform="translate(92.6 458.72) scale(0.968 1.045)" text-anchor="end">140</text>
<text class="s" transform="translate(92.6 245.38) scale(0.968 1.045)" text-anchor="end">160</text>
<text class="i" x="45.5" y="1940.8" style="font-size:51.4px">N</text>
<text class="i" x="106.5" y="1995.4" style="font-size:51.4px">Z</text>
<text class="i" x="1040.7" y="1059.8" style="font-size:50.8px">Z<tspan font-style="normal"> = </tspan>N</text>
<rect x="1412.25" y="41.2" width="69.45" height="31.1" fill="#300000"/>
<rect x="1412.25" y="71.8" width="69.45" height="30.25" fill="#800000"/>
<rect x="1412.25" y="101.45" width="69.45" height="30.25" fill="#870000"/>
<rect x="1412.25" y="131.1" width="69.45" height="30.25" fill="#8e0000"/>
<rect x="1412.25" y="160.75" width="69.45" height="30.25" fill="#950000"/>
<rect x="1412.25" y="190.4" width="69.45" height="30.25" fill="#9c0000"/>
<rect x="1412.25" y="220.05" width="69.45" height="30.25" fill="#a20000"/>
<rect x="1412.25" y="249.7" width="69.45" height="30.25" fill="#a90000"/>
<rect x="1412.25" y="279.35" width="69.45" height="30.25" fill="#b00000"/>
<rect x="1412.25" y="309" width="69.45" height="30.25" fill="#b70000"/>
<rect x="1412.25" y="338.65" width="69.45" height="30.25" fill="#be0000"/>
<rect x="1412.25" y="368.3" width="69.45" height="30.25" fill="#c50000"/>
<rect x="1412.25" y="397.95" width="69.45" height="30.25" fill="#cc0000"/>
<rect x="1412.25" y="427.6" width="69.45" height="30.25" fill="#d20000"/>
<rect x="1412.25" y="457.25" width="69.45" height="30.25" fill="#d90000"/>
<rect x="1412.25" y="486.9" width="69.45" height="30.25" fill="#e00000"/>
<rect x="1412.25" y="516.55" width="69.45" height="30.25" fill="#e70000"/>
<rect x="1412.25" y="546.2" width="69.45" height="30.25" fill="#ee0000"/>
<rect x="1412.25" y="575.85" width="69.45" height="30.25" fill="#ee1800"/>
<rect x="1412.25" y="605.5" width="69.45" height="30.25" fill="#ee3000"/>
<rect x="1412.25" y="635.15" width="69.45" height="30.25" fill="#ef4800"/>
<rect x="1412.25" y="664.8" width="69.45" height="30.25" fill="#ef6000"/>
<rect x="1412.25" y="694.45" width="69.45" height="30.25" fill="#ef7800"/>
<rect x="1412.25" y="724.1" width="69.45" height="30.25" fill="#ef9000"/>
<rect x="1412.25" y="753.75" width="69.45" height="30.25" fill="#efa800"/>
<rect x="1412.25" y="783.4" width="69.45" height="30.25" fill="#f0c000"/>
<rect x="1412.25" y="813.05" width="69.45" height="30.25" fill="#f0d800"/>
<rect x="1412.25" y="842.7" width="69.45" height="30.25" fill="#f0f000"/>
<rect x="1412.25" y="872.35" width="69.45" height="30.25" fill="#c8f008"/>
<rect x="1412.25" y="902" width="69.45" height="30.25" fill="#a0f010"/>
<rect x="1412.25" y="931.65" width="69.45" height="30.25" fill="#78f018"/>
<rect x="1412.25" y="961.3" width="69.45" height="30.25" fill="#50f020"/>
<rect x="1412.25" y="990.95" width="69.45" height="30.25" fill="#28f028"/>
<rect x="1412.25" y="1020.6" width="69.45" height="30.25" fill="#1ee248"/>
<rect x="1412.25" y="1050.25" width="69.45" height="30.25" fill="#18e068"/>
<rect x="1412.25" y="1079.9" width="69.45" height="30.25" fill="#12dc88"/>
<rect x="1412.25" y="1109.55" width="69.45" height="30.25" fill="#08d6a8"/>
<rect x="1412.25" y="1139.2" width="69.45" height="30.25" fill="#00c8c8"/>
<rect x="1412.25" y="1168.85" width="69.45" height="30.25" fill="#08b8d0"/>
<rect x="1412.25" y="1198.5" width="69.45" height="30.25" fill="#10a6d2"/>
<rect x="1412.25" y="1228.15" width="69.45" height="30.25" fill="#1894da"/>
<rect x="1412.25" y="1257.8" width="69.45" height="30.25" fill="#207ee2"/>
<rect x="1412.25" y="1287.45" width="69.45" height="30.25" fill="#246ae8"/>
<rect x="1412.25" y="1317.1" width="69.45" height="30.25" fill="#2a58f0"/>
<rect x="1412.25" y="1346.75" width="69.45" height="30.25" fill="#3046f8"/>
<rect x="1412.25" y="1376.4" width="69.45" height="30.25" fill="#3333ff"/>
<rect x="1412.25" y="1406.05" width="69.45" height="30.25" fill="#3e3eff"/>
<rect x="1412.25" y="1435.7" width="69.45" height="30.25" fill="#4a4aff"/>
<rect x="1412.25" y="1465.35" width="69.45" height="30.25" fill="#5555ff"/>
<rect x="1412.25" y="1495" width="69.45" height="30.25" fill="#6060ff"/>
<rect x="1412.25" y="1524.65" width="69.45" height="30.25" fill="#6c6cff"/>
<rect x="1412.25" y="1554.3" width="69.45" height="30.25" fill="#7777ff"/>
<rect x="1412.25" y="1583.95" width="69.45" height="30.25" fill="#8282ff"/>
<rect x="1412.25" y="1613.6" width="69.45" height="30.25" fill="#8e8eff"/>
<rect x="1412.25" y="1643.25" width="69.45" height="30.25" fill="#9999ff"/>
<rect x="1412.25" y="1672.9" width="69.45" height="30.25" fill="#a5a5ff"/>
<rect x="1412.25" y="1702.55" width="69.45" height="30.25" fill="#b0b0ff"/>
<rect x="1412.25" y="1732.2" width="69.45" height="30.25" fill="#bbbbff"/>
<rect x="1412.25" y="1761.85" width="69.45" height="30.25" fill="#c7c7ff"/>
<rect x="1412.25" y="1791.5" width="69.45" height="30.25" fill="#d2d2ff"/>
<rect x="1412.25" y="1821.15" width="69.45" height="30.25" fill="#ddddff"/>
<rect x="1412.25" y="1850.8" width="69.45" height="30.25" fill="#e9e9ff"/>
<rect x="1412.25" y="1880.45" width="69.45" height="30.25" fill="#f4f4ff"/>
<path d="M1412.25 101.45H1481.7M1412.25 131.1H1481.7M1412.25 160.75H1481.7M1412.25 190.4H1481.7M1412.25 220.05H1481.7M1412.25 249.7H1481.7M1412.25 279.35H1481.7M1412.25 309H1481.7M1412.25 338.65H1481.7M1412.25 368.3H1481.7M1412.25 397.95H1481.7M1412.25 427.6H1481.7M1412.25 457.25H1481.7M1412.25 486.9H1481.7M1412.25 516.55H1481.7M1412.25 546.2H1481.7M1412.25 575.85H1481.7M1412.25 605.5H1481.7M1412.25 635.15H1481.7M1412.25 664.8H1481.7M1412.25 694.45H1481.7M1412.25 724.1H1481.7M1412.25 753.75H1481.7M1412.25 783.4H1481.7M1412.25 813.05H1481.7M1412.25 842.7H1481.7M1412.25 872.35H1481.7M1412.25 902H1481.7M1412.25 931.65H1481.7M1412.25 961.3H1481.7M1412.25 990.95H1481.7M1412.25 1020.6H1481.7M1412.25 1050.25H1481.7M1412.25 1079.9H1481.7M1412.25 1109.55H1481.7M1412.25 1139.2H1481.7M1412.25 1168.85H1481.7M1412.25 1198.5H1481.7M1412.25 1228.15H1481.7M1412.25 1257.8H1481.7M1412.25 1287.45H1481.7M1412.25 1317.1H1481.7M1412.25 1346.75H1481.7M1412.25 1376.4H1481.7M1412.25 1406.05H1481.7M1412.25 1435.7H1481.7M1412.25 1465.35H1481.7M1412.25 1495H1481.7M1412.25 1524.65H1481.7M1412.25 1554.3H1481.7M1412.25 1583.95H1481.7M1412.25 1613.6H1481.7M1412.25 1643.25H1481.7M1412.25 1672.9H1481.7M1412.25 1702.55H1481.7M1412.25 1732.2H1481.7M1412.25 1761.85H1481.7M1412.25 1791.5H1481.7M1412.25 1821.15H1481.7M1412.25 1850.8H1481.7M1412.25 1880.45H1481.7" stroke="#fff" stroke-opacity="0.18" stroke-width="0.7" fill="none"/>
<rect x="1412.25" y="1910.1" width="69.45" height="32.8" fill="#fff"/>
<rect x="1412.25" y="41.2" width="69.45" height="1901.7" fill="none" stroke="#000" stroke-width="2.4"/>
<path d="M1412.25 1910.1H1481.7" stroke="#000" stroke-width="2.4"/>
<text class="s" transform="translate(1508.7 1893.44) scale(0.968 1.045)" text-anchor="start">10<tspan style="font-size:33.6px" dx="1" dy="-14.9">−8</tspan><tspan dx="0.6" dy="14.9"> s</tspan></text>
<text class="s" transform="translate(1508.7 1774.63) scale(0.968 1.045)" text-anchor="start">10<tspan style="font-size:33.6px" dx="1" dy="-14.9">−6</tspan><tspan dx="0.6" dy="14.9"> s</tspan></text>
<text class="s" transform="translate(1508.7 1655.82) scale(0.968 1.045)" text-anchor="start">10<tspan style="font-size:33.6px" dx="1" dy="-14.9">−4</tspan><tspan dx="0.6" dy="14.9"> s</tspan></text>
<text class="s" transform="translate(1508.7 1537.01) scale(0.968 1.045)" text-anchor="start">10<tspan style="font-size:33.6px" dx="1" dy="-14.9">−2</tspan><tspan dx="0.6" dy="14.9"> s</tspan></text>
<text class="s" transform="translate(1509.3 1417.5) scale(0.968 1.045)" text-anchor="start">1<tspan dx="1.2"> s</tspan></text>
<text class="s" transform="translate(1509.3 1298.69) scale(0.968 1.045)" text-anchor="start">100<tspan dx="1.2"> s</tspan></text>
<text class="s" transform="translate(1508.7 1180.58) scale(0.968 1.045)" text-anchor="start">10<tspan style="font-size:33.6px" dx="1" dy="-14.9">4</tspan><tspan dx="0.6" dy="14.9"> s</tspan></text>
<text class="s" transform="translate(1508.7 1061.77) scale(0.968 1.045)" text-anchor="start">10<tspan style="font-size:33.6px" dx="1" dy="-14.9">6</tspan><tspan dx="0.6" dy="14.9"> s</tspan></text>
<text class="s" transform="translate(1509.3 972.02) scale(0.968 1.045)" text-anchor="start">1<tspan dx="1.2"> yr</tspan></text>
<text class="s" transform="translate(1509.3 853.21) scale(0.968 1.045)" text-anchor="start">100<tspan dx="1.2"> yr</tspan></text>
<text class="s" transform="translate(1508.7 735.1) scale(0.968 1.045)" text-anchor="start">10<tspan style="font-size:33.6px" dx="1" dy="-14.9">4</tspan><tspan dx="0.6" dy="14.9"> yr</tspan></text>
<text class="s" transform="translate(1508.7 616.29) scale(0.968 1.045)" text-anchor="start">10<tspan style="font-size:33.6px" dx="1" dy="-14.9">6</tspan><tspan dx="0.6" dy="14.9"> yr</tspan></text>
<text class="s" transform="translate(1508.7 497.48) scale(0.968 1.045)" text-anchor="start">10<tspan style="font-size:33.6px" dx="1" dy="-14.9">8</tspan><tspan dx="0.6" dy="14.9"> yr</tspan></text>
<text class="s" transform="translate(1508.7 378.67) scale(0.968 1.045)" text-anchor="start">10<tspan style="font-size:33.6px" dx="1" dy="-14.9">10</tspan><tspan dx="0.6" dy="14.9"> yr</tspan></text>
<text class="s" transform="translate(1508.7 259.86) scale(0.968 1.045)" text-anchor="start">10<tspan style="font-size:33.6px" dx="1" dy="-14.9">12</tspan><tspan dx="0.6" dy="14.9"> yr</tspan></text>
<text class="s" transform="translate(1508.7 141.05) scale(0.968 1.045)" text-anchor="start">10<tspan style="font-size:33.6px" dx="1" dy="-14.9">14</tspan><tspan dx="0.6" dy="14.9"> yr</tspan></text>
<path d="M1481.7 1881.44h12.5M1481.7 1762.63h12.5M1481.7 1643.82h12.5M1481.7 1525.01h12.5M1481.7 1406.2h12.5M1481.7 1287.39h12.5M1481.7 1168.58h12.5M1481.7 1049.77h12.5M1481.7 960.72h12.5M1481.7 841.91h12.5M1481.7 723.1h12.5M1481.7 604.29h12.5M1481.7 485.48h12.5M1481.7 366.67h12.5M1481.7 247.86h12.5M1481.7 129.05h12.5" stroke="#000" stroke-width="2.2" fill="none"/>
<text class="d" x="1494" y="74.7" style="font-size:51px">stable</text>
<text class="d" x="1494" y="1941" style="font-size:51px">no data</text>
</svg></body></html>
